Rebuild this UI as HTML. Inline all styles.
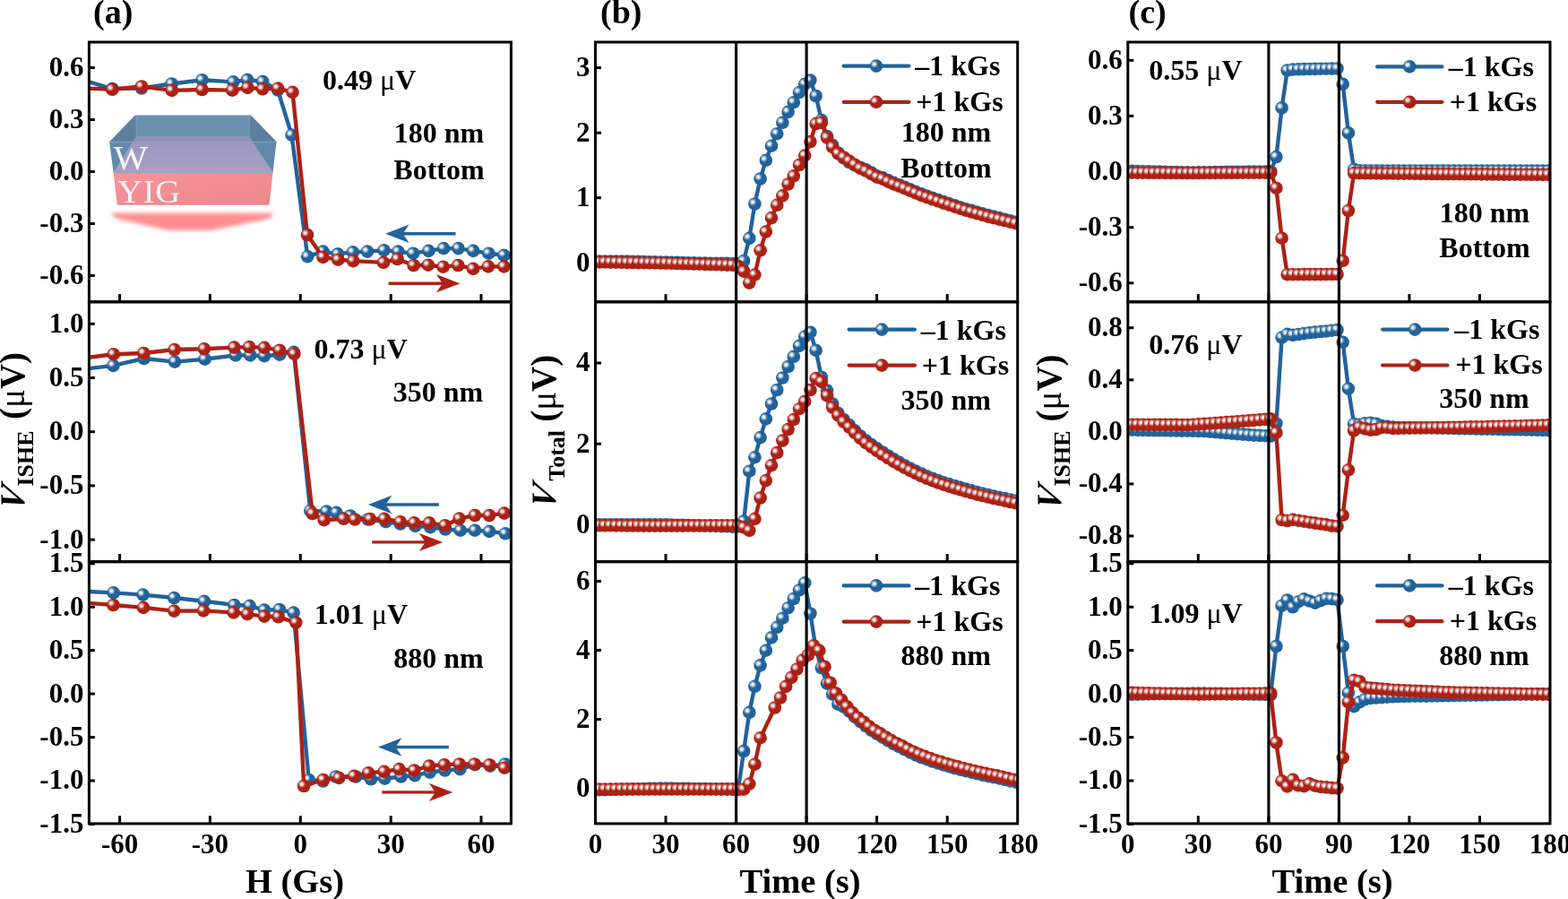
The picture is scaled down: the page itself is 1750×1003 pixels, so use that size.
<!DOCTYPE html>
<html><head><meta charset="utf-8"><style>html,body{margin:0;padding:0;background:#fff;}svg{display:block;}</style></head><body>
<svg width="1750" height="1003" viewBox="0 0 1750 1003">
<defs>
<radialGradient id="gH" cx="0.5" cy="0.5" r="0.5"><stop offset="0" stop-color="#fff" stop-opacity="1"/><stop offset="0.3" stop-color="#fff" stop-opacity="0.88"/><stop offset="0.65" stop-color="#fff" stop-opacity="0.4"/><stop offset="1" stop-color="#fff" stop-opacity="0"/></radialGradient>
<g id="mB"><circle r="7.3" fill="#22629b"/><circle cx="-2.3" cy="-2.1" r="4.3" fill="url(#gH)"/></g>
<g id="mR"><circle r="7.3" fill="#ad2115"/><circle cx="-2.3" cy="-2.1" r="4.3" fill="url(#gH)"/></g>
<clipPath id="ca0"><rect x="99.4" y="47" width="471" height="289.8"/></clipPath>
<clipPath id="ca1"><rect x="99.4" y="336.8" width="471" height="289.9"/></clipPath>
<clipPath id="ca2"><rect x="99.4" y="626.7" width="471" height="292.2"/></clipPath>
<clipPath id="cb0"><rect x="664.5" y="47" width="471.2" height="289.8"/></clipPath>
<clipPath id="cb1"><rect x="664.5" y="336.8" width="471.2" height="289.9"/></clipPath>
<clipPath id="cb2"><rect x="664.5" y="626.7" width="471.2" height="292.2"/></clipPath>
<clipPath id="cc0"><rect x="1258.8" y="47" width="471.2" height="289.8"/></clipPath>
<clipPath id="cc1"><rect x="1258.8" y="336.8" width="471.2" height="289.9"/></clipPath>
<clipPath id="cc2"><rect x="1258.8" y="626.7" width="471.2" height="292.2"/></clipPath>
<filter id="blur" x="-20%" y="-50%" width="140%" height="200%"><feGaussianBlur stdDeviation="2.2"/></filter>
</defs>
<rect width="1750" height="1003" fill="#fff"/>
<g>
<polygon points="123.5,237.6 305.9,237.6 300,244 236,257 188,257 130,244" fill="#ff8f92" filter="url(#blur)"/>
<defs><linearGradient id="lav" x1="0" y1="0" x2="0" y2="1"><stop offset="0" stop-color="#9c97bc"/><stop offset="1" stop-color="#a7a1c5"/></linearGradient><linearGradient id="pnk" x1="0" y1="0" x2="1" y2="1"><stop offset="0" stop-color="#f7939a"/><stop offset="1" stop-color="#ec878b"/></linearGradient></defs>
<polygon points="151.1,128.4 279.7,128.4 308.6,158.3 122.2,158.3" fill="#6a90b0"/>
<polygon points="122.2,158.3 151.1,128.4 152.2,152.7 148.6,158.3" fill="#5e7f9e"/>
<polygon points="279.7,128.4 308.6,158.3 281.7,158.3 278.1,152.7" fill="#5e7f9e"/>
<polygon points="122.2,158.3 308.6,158.3 304.5,192.8 126.6,192.8" fill="#6488a9"/>
<polygon points="152.2,152.7 278.1,152.7 281.7,158.3 148.6,158.3" fill="#958fb2"/>
<polygon points="148.6,158.3 281.7,158.3 304.5,192.8 126.6,192.8" fill="url(#lav)"/>
<polygon points="126.6,192.8 304.5,192.8 300.5,228.7 130.9,228.7" fill="url(#pnk)"/>
<path d="M152.2 128.8 V152.7 H278.1 V128.8 M122.5 158.3 H308.3 M152.2 152.7 L126.6 192.8 M278.1 152.7 L304.5 192.8 M126.6 192.8 H304.5" fill="none" stroke="#8aaccc" stroke-width="0.8" opacity="0.7"/>
<text transform="translate(126.8 189.3) scale(1.08 1)" font-family="Liberation Serif, serif" font-size="37.5" fill="#f6f6fa">W</text>
<text transform="translate(131 225.7) scale(1.1 1)" font-family="Liberation Serif, serif" font-size="35" fill="#f4f4f8" letter-spacing="0.8">YIG</text>
</g>
<line x1="99.4" y1="75.5" x2="105.9" y2="75.5" stroke="#000" stroke-width="3"/>
<line x1="99.4" y1="133.5" x2="105.9" y2="133.5" stroke="#000" stroke-width="3"/>
<line x1="99.4" y1="191.5" x2="105.9" y2="191.5" stroke="#000" stroke-width="3"/>
<line x1="99.4" y1="249.5" x2="105.9" y2="249.5" stroke="#000" stroke-width="3"/>
<line x1="99.4" y1="307.5" x2="105.9" y2="307.5" stroke="#000" stroke-width="3"/>
<line x1="99.4" y1="361.3" x2="105.9" y2="361.3" stroke="#000" stroke-width="3"/>
<line x1="99.4" y1="421.5" x2="105.9" y2="421.5" stroke="#000" stroke-width="3"/>
<line x1="99.4" y1="481.7" x2="105.9" y2="481.7" stroke="#000" stroke-width="3"/>
<line x1="99.4" y1="541.9" x2="105.9" y2="541.9" stroke="#000" stroke-width="3"/>
<line x1="99.4" y1="602.1" x2="105.9" y2="602.1" stroke="#000" stroke-width="3"/>
<line x1="99.4" y1="628.8" x2="105.9" y2="628.8" stroke="#000" stroke-width="3"/>
<line x1="99.4" y1="677.2" x2="105.9" y2="677.2" stroke="#000" stroke-width="3"/>
<line x1="99.4" y1="725.6" x2="105.9" y2="725.6" stroke="#000" stroke-width="3"/>
<line x1="99.4" y1="774.1" x2="105.9" y2="774.1" stroke="#000" stroke-width="3"/>
<line x1="99.4" y1="822.6" x2="105.9" y2="822.6" stroke="#000" stroke-width="3"/>
<line x1="99.4" y1="871" x2="105.9" y2="871" stroke="#000" stroke-width="3"/>
<line x1="99.4" y1="919.5" x2="105.9" y2="919.5" stroke="#000" stroke-width="3"/>
<line x1="664.5" y1="75.6" x2="671" y2="75.6" stroke="#000" stroke-width="3"/>
<line x1="664.5" y1="148.2" x2="671" y2="148.2" stroke="#000" stroke-width="3"/>
<line x1="664.5" y1="220.7" x2="671" y2="220.7" stroke="#000" stroke-width="3"/>
<line x1="664.5" y1="293.3" x2="671" y2="293.3" stroke="#000" stroke-width="3"/>
<line x1="664.5" y1="405" x2="671" y2="405" stroke="#000" stroke-width="3"/>
<line x1="664.5" y1="495.2" x2="671" y2="495.2" stroke="#000" stroke-width="3"/>
<line x1="664.5" y1="585.4" x2="671" y2="585.4" stroke="#000" stroke-width="3"/>
<line x1="664.5" y1="648.4" x2="671" y2="648.4" stroke="#000" stroke-width="3"/>
<line x1="664.5" y1="725.4" x2="671" y2="725.4" stroke="#000" stroke-width="3"/>
<line x1="664.5" y1="802.5" x2="671" y2="802.5" stroke="#000" stroke-width="3"/>
<line x1="664.5" y1="879.5" x2="671" y2="879.5" stroke="#000" stroke-width="3"/>
<line x1="1258.8" y1="67.3" x2="1265.3" y2="67.3" stroke="#000" stroke-width="3"/>
<line x1="1258.8" y1="129.4" x2="1265.3" y2="129.4" stroke="#000" stroke-width="3"/>
<line x1="1258.8" y1="191.6" x2="1265.3" y2="191.6" stroke="#000" stroke-width="3"/>
<line x1="1258.8" y1="253.7" x2="1265.3" y2="253.7" stroke="#000" stroke-width="3"/>
<line x1="1258.8" y1="315.8" x2="1265.3" y2="315.8" stroke="#000" stroke-width="3"/>
<line x1="1258.8" y1="365.7" x2="1265.3" y2="365.7" stroke="#000" stroke-width="3"/>
<line x1="1258.8" y1="423.8" x2="1265.3" y2="423.8" stroke="#000" stroke-width="3"/>
<line x1="1258.8" y1="481.9" x2="1265.3" y2="481.9" stroke="#000" stroke-width="3"/>
<line x1="1258.8" y1="539.9" x2="1265.3" y2="539.9" stroke="#000" stroke-width="3"/>
<line x1="1258.8" y1="598" x2="1265.3" y2="598" stroke="#000" stroke-width="3"/>
<line x1="1258.8" y1="628.8" x2="1265.3" y2="628.8" stroke="#000" stroke-width="3"/>
<line x1="1258.8" y1="677.2" x2="1265.3" y2="677.2" stroke="#000" stroke-width="3"/>
<line x1="1258.8" y1="725.6" x2="1265.3" y2="725.6" stroke="#000" stroke-width="3"/>
<line x1="1258.8" y1="774.1" x2="1265.3" y2="774.1" stroke="#000" stroke-width="3"/>
<line x1="1258.8" y1="822.6" x2="1265.3" y2="822.6" stroke="#000" stroke-width="3"/>
<line x1="1258.8" y1="871" x2="1265.3" y2="871" stroke="#000" stroke-width="3"/>
<line x1="1258.8" y1="919.5" x2="1265.3" y2="919.5" stroke="#000" stroke-width="3"/>
<line x1="133.6" y1="336.8" x2="133.6" y2="328.1" stroke="#000" stroke-width="3"/>
<line x1="234.4" y1="336.8" x2="234.4" y2="328.1" stroke="#000" stroke-width="3"/>
<line x1="335.3" y1="336.8" x2="335.3" y2="328.1" stroke="#000" stroke-width="3"/>
<line x1="436.2" y1="336.8" x2="436.2" y2="328.1" stroke="#000" stroke-width="3"/>
<line x1="537" y1="336.8" x2="537" y2="328.1" stroke="#000" stroke-width="3"/>
<line x1="133.6" y1="626.7" x2="133.6" y2="618" stroke="#000" stroke-width="3"/>
<line x1="234.4" y1="626.7" x2="234.4" y2="618" stroke="#000" stroke-width="3"/>
<line x1="335.3" y1="626.7" x2="335.3" y2="618" stroke="#000" stroke-width="3"/>
<line x1="436.2" y1="626.7" x2="436.2" y2="618" stroke="#000" stroke-width="3"/>
<line x1="537" y1="626.7" x2="537" y2="618" stroke="#000" stroke-width="3"/>
<line x1="133.6" y1="918.9" x2="133.6" y2="910.2" stroke="#000" stroke-width="3"/>
<line x1="234.4" y1="918.9" x2="234.4" y2="910.2" stroke="#000" stroke-width="3"/>
<line x1="335.3" y1="918.9" x2="335.3" y2="910.2" stroke="#000" stroke-width="3"/>
<line x1="436.2" y1="918.9" x2="436.2" y2="910.2" stroke="#000" stroke-width="3"/>
<line x1="537" y1="918.9" x2="537" y2="910.2" stroke="#000" stroke-width="3"/>
<line x1="743" y1="336.8" x2="743" y2="328.1" stroke="#000" stroke-width="3"/>
<line x1="821.6" y1="336.8" x2="821.6" y2="328.1" stroke="#000" stroke-width="3"/>
<line x1="900.1" y1="336.8" x2="900.1" y2="328.1" stroke="#000" stroke-width="3"/>
<line x1="978.6" y1="336.8" x2="978.6" y2="328.1" stroke="#000" stroke-width="3"/>
<line x1="1057.2" y1="336.8" x2="1057.2" y2="328.1" stroke="#000" stroke-width="3"/>
<line x1="743" y1="626.7" x2="743" y2="618" stroke="#000" stroke-width="3"/>
<line x1="821.6" y1="626.7" x2="821.6" y2="618" stroke="#000" stroke-width="3"/>
<line x1="900.1" y1="626.7" x2="900.1" y2="618" stroke="#000" stroke-width="3"/>
<line x1="978.6" y1="626.7" x2="978.6" y2="618" stroke="#000" stroke-width="3"/>
<line x1="1057.2" y1="626.7" x2="1057.2" y2="618" stroke="#000" stroke-width="3"/>
<line x1="743" y1="918.9" x2="743" y2="910.2" stroke="#000" stroke-width="3"/>
<line x1="821.6" y1="918.9" x2="821.6" y2="910.2" stroke="#000" stroke-width="3"/>
<line x1="900.1" y1="918.9" x2="900.1" y2="910.2" stroke="#000" stroke-width="3"/>
<line x1="978.6" y1="918.9" x2="978.6" y2="910.2" stroke="#000" stroke-width="3"/>
<line x1="1057.2" y1="918.9" x2="1057.2" y2="910.2" stroke="#000" stroke-width="3"/>
<line x1="1337.3" y1="336.8" x2="1337.3" y2="328.1" stroke="#000" stroke-width="3"/>
<line x1="1415.9" y1="336.8" x2="1415.9" y2="328.1" stroke="#000" stroke-width="3"/>
<line x1="1494.4" y1="336.8" x2="1494.4" y2="328.1" stroke="#000" stroke-width="3"/>
<line x1="1572.9" y1="336.8" x2="1572.9" y2="328.1" stroke="#000" stroke-width="3"/>
<line x1="1651.5" y1="336.8" x2="1651.5" y2="328.1" stroke="#000" stroke-width="3"/>
<line x1="1337.3" y1="626.7" x2="1337.3" y2="618" stroke="#000" stroke-width="3"/>
<line x1="1415.9" y1="626.7" x2="1415.9" y2="618" stroke="#000" stroke-width="3"/>
<line x1="1494.4" y1="626.7" x2="1494.4" y2="618" stroke="#000" stroke-width="3"/>
<line x1="1572.9" y1="626.7" x2="1572.9" y2="618" stroke="#000" stroke-width="3"/>
<line x1="1651.5" y1="626.7" x2="1651.5" y2="618" stroke="#000" stroke-width="3"/>
<line x1="1337.3" y1="918.9" x2="1337.3" y2="910.2" stroke="#000" stroke-width="3"/>
<line x1="1415.9" y1="918.9" x2="1415.9" y2="910.2" stroke="#000" stroke-width="3"/>
<line x1="1494.4" y1="918.9" x2="1494.4" y2="910.2" stroke="#000" stroke-width="3"/>
<line x1="1572.9" y1="918.9" x2="1572.9" y2="910.2" stroke="#000" stroke-width="3"/>
<line x1="1651.5" y1="918.9" x2="1651.5" y2="910.2" stroke="#000" stroke-width="3"/>
<g clip-path="url(#ca0)">
<path d="M91.6 89.1 L125.3 99 L158 98.5 L191.6 93.5 L225.6 89.2 L260.4 91.4 L276 89 L293.2 91 L310.1 100.5 L325.5 150.6 L343.2 286.2 L360.5 280.6 L377 283.4 L393.9 281.3 L410 280.6 L428.5 279.2 L444.3 280.6 L461.1 282.7 L478.3 279.9 L495.1 277.1 L511.5 277.1 L528.2 279.9 L545.4 282.7 L562.4 284.8 L579 286" fill="none" stroke="#22629b" stroke-width="4.4" stroke-linejoin="round"/>
<use href="#mB" x="91.6" y="89.1"/>
<use href="#mB" x="125.3" y="99"/>
<use href="#mB" x="158" y="98.5"/>
<use href="#mB" x="191.6" y="93.5"/>
<use href="#mB" x="225.6" y="89.2"/>
<use href="#mB" x="260.4" y="91.4"/>
<use href="#mB" x="276" y="89"/>
<use href="#mB" x="293.2" y="91"/>
<use href="#mB" x="310.1" y="100.5"/>
<use href="#mB" x="325.5" y="150.6"/>
<use href="#mB" x="343.2" y="286.2"/>
<use href="#mB" x="360.5" y="280.6"/>
<use href="#mB" x="377" y="283.4"/>
<use href="#mB" x="393.9" y="281.3"/>
<use href="#mB" x="410" y="280.6"/>
<use href="#mB" x="428.5" y="279.2"/>
<use href="#mB" x="444.3" y="280.6"/>
<use href="#mB" x="461.1" y="282.7"/>
<use href="#mB" x="478.3" y="279.9"/>
<use href="#mB" x="495.1" y="277.1"/>
<use href="#mB" x="511.5" y="277.1"/>
<use href="#mB" x="528.2" y="279.9"/>
<use href="#mB" x="545.4" y="282.7"/>
<use href="#mB" x="562.4" y="284.8"/>
<use href="#mB" x="579" y="286"/>
<path d="M91.6 98.3 L125.3 99.8 L158 96.5 L191.8 100.9 L225.5 100 L259.3 100.7 L276.3 97.9 L293.1 99.3 L310.2 98.6 L326.5 102.9 L343 262 L360.5 286.9 L377.4 289.7 L394.2 291.1 L428 292.9 L443.6 289 L461.6 296 L477.9 295.7 L494.6 297.7 L511.3 296 L528.1 299.9 L544.9 297.4 L562.4 297.4 L579 297" fill="none" stroke="#ad2115" stroke-width="4.4" stroke-linejoin="round"/>
<use href="#mR" x="91.6" y="98.3"/>
<use href="#mR" x="125.3" y="99.8"/>
<use href="#mR" x="158" y="96.5"/>
<use href="#mR" x="191.8" y="100.9"/>
<use href="#mR" x="225.5" y="100"/>
<use href="#mR" x="259.3" y="100.7"/>
<use href="#mR" x="276.3" y="97.9"/>
<use href="#mR" x="293.1" y="99.3"/>
<use href="#mR" x="310.2" y="98.6"/>
<use href="#mR" x="326.5" y="102.9"/>
<use href="#mR" x="343" y="262"/>
<use href="#mR" x="360.5" y="286.9"/>
<use href="#mR" x="377.4" y="289.7"/>
<use href="#mR" x="394.2" y="291.1"/>
<use href="#mR" x="428" y="292.9"/>
<use href="#mR" x="443.6" y="289"/>
<use href="#mR" x="461.6" y="296"/>
<use href="#mR" x="477.9" y="295.7"/>
<use href="#mR" x="494.6" y="297.7"/>
<use href="#mR" x="511.3" y="296"/>
<use href="#mR" x="528.1" y="299.9"/>
<use href="#mR" x="544.9" y="297.4"/>
<use href="#mR" x="562.4" y="297.4"/>
<use href="#mR" x="579" y="297"/>
</g>
<g clip-path="url(#ca1)">
<path d="M91.6 412 L126.4 407.9 L160.7 400 L195 403.6 L228.6 400.7 L262.9 396.4 L279.3 396.4 L295 397.1 L312.1 395.7 L327.9 392.9 L346.3 569.9 L364.4 570.6 L375.4 571.9 L391 575.5 L410.7 579.5 L430.6 582.2 L446.8 584.5 L463.5 586.9 L480.3 588.1 L497 590.5 L513.8 591.7 L530 591.7 L546.1 592.9 L564 595.3 L580 596" fill="none" stroke="#22629b" stroke-width="4.4" stroke-linejoin="round"/>
<use href="#mB" x="91.6" y="412"/>
<use href="#mB" x="126.4" y="407.9"/>
<use href="#mB" x="160.7" y="400"/>
<use href="#mB" x="195" y="403.6"/>
<use href="#mB" x="228.6" y="400.7"/>
<use href="#mB" x="262.9" y="396.4"/>
<use href="#mB" x="279.3" y="396.4"/>
<use href="#mB" x="295" y="397.1"/>
<use href="#mB" x="312.1" y="395.7"/>
<use href="#mB" x="327.9" y="392.9"/>
<use href="#mB" x="346.3" y="569.9"/>
<use href="#mB" x="364.4" y="570.6"/>
<use href="#mB" x="375.4" y="571.9"/>
<use href="#mB" x="391" y="575.5"/>
<use href="#mB" x="410.7" y="579.5"/>
<use href="#mB" x="430.6" y="582.2"/>
<use href="#mB" x="446.8" y="584.5"/>
<use href="#mB" x="463.5" y="586.9"/>
<use href="#mB" x="480.3" y="588.1"/>
<use href="#mB" x="497" y="590.5"/>
<use href="#mB" x="513.8" y="591.7"/>
<use href="#mB" x="530" y="591.7"/>
<use href="#mB" x="546.1" y="592.9"/>
<use href="#mB" x="564" y="595.3"/>
<use href="#mB" x="580" y="596"/>
<path d="M91.6 399.8 L126.7 395.2 L160.4 394 L194.7 390 L227.9 389.2 L261.4 387.6 L278.1 387.1 L295 387.9 L311.9 390.7 L328.4 394.8 L348.7 573 L361.7 580.2 L383.6 578.8 L396 579.5 L413.1 579.1 L428.9 578.8 L446.8 582.2 L462.3 583.3 L479.1 583.3 L496.6 586.2 L512.6 578.6 L530 575 L546.1 575 L562.8 572.6 L580 571" fill="none" stroke="#ad2115" stroke-width="4.4" stroke-linejoin="round"/>
<use href="#mR" x="91.6" y="399.8"/>
<use href="#mR" x="126.7" y="395.2"/>
<use href="#mR" x="160.4" y="394"/>
<use href="#mR" x="194.7" y="390"/>
<use href="#mR" x="227.9" y="389.2"/>
<use href="#mR" x="261.4" y="387.6"/>
<use href="#mR" x="278.1" y="387.1"/>
<use href="#mR" x="295" y="387.9"/>
<use href="#mR" x="311.9" y="390.7"/>
<use href="#mR" x="328.4" y="394.8"/>
<use href="#mR" x="348.7" y="573"/>
<use href="#mR" x="361.7" y="580.2"/>
<use href="#mR" x="383.6" y="578.8"/>
<use href="#mR" x="396" y="579.5"/>
<use href="#mR" x="413.1" y="579.1"/>
<use href="#mR" x="428.9" y="578.8"/>
<use href="#mR" x="446.8" y="582.2"/>
<use href="#mR" x="462.3" y="583.3"/>
<use href="#mR" x="479.1" y="583.3"/>
<use href="#mR" x="496.6" y="586.2"/>
<use href="#mR" x="512.6" y="578.6"/>
<use href="#mR" x="530" y="575"/>
<use href="#mR" x="546.1" y="575"/>
<use href="#mR" x="562.8" y="572.6"/>
<use href="#mR" x="580" y="571"/>
</g>
<g clip-path="url(#ca2)">
<path d="M91.6 659.7 L126.7 661.4 L159.6 663.6 L194.3 667 L227.9 670.8 L261.4 675 L278.6 675.8 L295 680.6 L311.9 680 L327.6 683.6 L344.7 870 L360.5 871.5 L374.8 866.5 L397.2 866.5 L414 869.3 L429.4 868.6 L447.6 866.5 L463 865.1 L479.8 861.6 L496.6 859.5 L513.4 858.1 L530.2 853.2 L547 854.6 L563.8 852.5 L580 851" fill="none" stroke="#22629b" stroke-width="4.4" stroke-linejoin="round"/>
<use href="#mB" x="91.6" y="659.7"/>
<use href="#mB" x="126.7" y="661.4"/>
<use href="#mB" x="159.6" y="663.6"/>
<use href="#mB" x="194.3" y="667"/>
<use href="#mB" x="227.9" y="670.8"/>
<use href="#mB" x="261.4" y="675"/>
<use href="#mB" x="278.6" y="675.8"/>
<use href="#mB" x="295" y="680.6"/>
<use href="#mB" x="311.9" y="680"/>
<use href="#mB" x="327.6" y="683.6"/>
<use href="#mB" x="344.7" y="870"/>
<use href="#mB" x="360.5" y="871.5"/>
<use href="#mB" x="374.8" y="866.5"/>
<use href="#mB" x="397.2" y="866.5"/>
<use href="#mB" x="414" y="869.3"/>
<use href="#mB" x="429.4" y="868.6"/>
<use href="#mB" x="447.6" y="866.5"/>
<use href="#mB" x="463" y="865.1"/>
<use href="#mB" x="479.8" y="861.6"/>
<use href="#mB" x="496.6" y="859.5"/>
<use href="#mB" x="513.4" y="858.1"/>
<use href="#mB" x="530.2" y="853.2"/>
<use href="#mB" x="547" y="854.6"/>
<use href="#mB" x="563.8" y="852.5"/>
<use href="#mB" x="580" y="851"/>
<path d="M91.6 672.3 L126.4 675 L160 677.9 L194.3 681.6 L227.1 681.4 L260.7 683.4 L276.1 685.1 L295 687.6 L310.7 688.3 L330.3 694.6 L339.1 877 L360.8 870 L378.3 867.9 L395.1 865.8 L411.2 862.3 L428.7 860.9 L445.5 858.1 L462.3 859.5 L479.1 854.6 L495.9 853.2 L512.7 852.5 L529.5 852.5 L546.3 853.2 L563.1 856.7 L580 858" fill="none" stroke="#ad2115" stroke-width="4.4" stroke-linejoin="round"/>
<use href="#mR" x="91.6" y="672.3"/>
<use href="#mR" x="126.4" y="675"/>
<use href="#mR" x="160" y="677.9"/>
<use href="#mR" x="194.3" y="681.6"/>
<use href="#mR" x="227.1" y="681.4"/>
<use href="#mR" x="260.7" y="683.4"/>
<use href="#mR" x="276.1" y="685.1"/>
<use href="#mR" x="295" y="687.6"/>
<use href="#mR" x="310.7" y="688.3"/>
<use href="#mR" x="330.3" y="694.6"/>
<use href="#mR" x="339.1" y="877"/>
<use href="#mR" x="360.8" y="870"/>
<use href="#mR" x="378.3" y="867.9"/>
<use href="#mR" x="395.1" y="865.8"/>
<use href="#mR" x="411.2" y="862.3"/>
<use href="#mR" x="428.7" y="860.9"/>
<use href="#mR" x="445.5" y="858.1"/>
<use href="#mR" x="462.3" y="859.5"/>
<use href="#mR" x="479.1" y="854.6"/>
<use href="#mR" x="495.9" y="853.2"/>
<use href="#mR" x="512.7" y="852.5"/>
<use href="#mR" x="529.5" y="852.5"/>
<use href="#mR" x="546.3" y="853.2"/>
<use href="#mR" x="563.1" y="856.7"/>
<use href="#mR" x="580" y="858"/>
</g>
<g clip-path="url(#cb0)">
<path d="M669 291.5 L675.1 291.5 L681.3 291.5 L687.5 291.5 L693.7 291.5 L699.9 291.5 L706.1 291.7 L712.3 291.8 L718.5 292 L724.7 292.2 L730.9 292.3 L737.1 292.5 L743.3 292.6 L749.5 292.8 L755.7 292.9 L761.9 293.1 L768.1 293.2 L774.3 293.4 L780.5 293.5 L786.7 293.6 L792.9 293.7 L799.1 293.8 L805.3 293.9 L811.5 293.9 L817.7 294.1 L823.9 294 L830.1 291 L836.3 265.9 L842.4 227.5 L848.6 199.5 L854.8 178.8 L861 162.7 L867.2 149.2 L873.4 136.8 L879.6 124.9 L885.8 114.2 L892 103.1 L898.2 93.8 L904.4 89.6 L910.6 107 L916.8 134 L923 152 L929.2 161.9 L935.4 170.5 L941.6 176.4 L947.8 181.1 L954 184.3 L960.2 186.7 L966.4 189.2 L972.6 192.6 L978.8 196.2 L985 198.1 L991.2 201.1 L997.4 203.9 L1003.6 206.2 L1009.7 208.7 L1015.9 211.3 L1022.1 213.9 L1028.3 216.4 L1034.5 218.6 L1040.7 220.8 L1046.9 222.9 L1053.1 225.1 L1059.3 227.1 L1065.5 229.2 L1071.7 231.2 L1077.9 233.2 L1084.1 234.9 L1090.3 236.6 L1096.5 238.4 L1102.7 240.1 L1108.9 241.6 L1115.1 243.1 L1121.3 244.7 L1127.5 246.2 L1133.7 247.7 L1139.9 249.2" fill="none" stroke="#22629b" stroke-width="4.4" stroke-linejoin="round"/>
<use href="#mB" x="669" y="291.5"/>
<use href="#mB" x="675.1" y="291.5"/>
<use href="#mB" x="681.3" y="291.5"/>
<use href="#mB" x="687.5" y="291.5"/>
<use href="#mB" x="693.7" y="291.5"/>
<use href="#mB" x="699.9" y="291.5"/>
<use href="#mB" x="706.1" y="291.7"/>
<use href="#mB" x="712.3" y="291.8"/>
<use href="#mB" x="718.5" y="292"/>
<use href="#mB" x="724.7" y="292.2"/>
<use href="#mB" x="730.9" y="292.3"/>
<use href="#mB" x="737.1" y="292.5"/>
<use href="#mB" x="743.3" y="292.6"/>
<use href="#mB" x="749.5" y="292.8"/>
<use href="#mB" x="755.7" y="292.9"/>
<use href="#mB" x="761.9" y="293.1"/>
<use href="#mB" x="768.1" y="293.2"/>
<use href="#mB" x="774.3" y="293.4"/>
<use href="#mB" x="780.5" y="293.5"/>
<use href="#mB" x="786.7" y="293.6"/>
<use href="#mB" x="792.9" y="293.7"/>
<use href="#mB" x="799.1" y="293.8"/>
<use href="#mB" x="805.3" y="293.9"/>
<use href="#mB" x="811.5" y="293.9"/>
<use href="#mB" x="817.7" y="294.1"/>
<use href="#mB" x="823.9" y="294"/>
<use href="#mB" x="830.1" y="291"/>
<use href="#mB" x="836.3" y="265.9"/>
<use href="#mB" x="842.4" y="227.5"/>
<use href="#mB" x="848.6" y="199.5"/>
<use href="#mB" x="854.8" y="178.8"/>
<use href="#mB" x="861" y="162.7"/>
<use href="#mB" x="867.2" y="149.2"/>
<use href="#mB" x="873.4" y="136.8"/>
<use href="#mB" x="879.6" y="124.9"/>
<use href="#mB" x="885.8" y="114.2"/>
<use href="#mB" x="892" y="103.1"/>
<use href="#mB" x="898.2" y="93.8"/>
<use href="#mB" x="904.4" y="89.6"/>
<use href="#mB" x="910.6" y="107"/>
<use href="#mB" x="916.8" y="134"/>
<use href="#mB" x="923" y="152"/>
<use href="#mB" x="929.2" y="161.9"/>
<use href="#mB" x="935.4" y="170.5"/>
<use href="#mB" x="941.6" y="176.4"/>
<use href="#mB" x="947.8" y="181.1"/>
<use href="#mB" x="954" y="184.3"/>
<use href="#mB" x="960.2" y="186.7"/>
<use href="#mB" x="966.4" y="189.2"/>
<use href="#mB" x="972.6" y="192.6"/>
<use href="#mB" x="978.8" y="196.2"/>
<use href="#mB" x="985" y="198.1"/>
<use href="#mB" x="991.2" y="201.1"/>
<use href="#mB" x="997.4" y="203.9"/>
<use href="#mB" x="1003.6" y="206.2"/>
<use href="#mB" x="1009.7" y="208.7"/>
<use href="#mB" x="1015.9" y="211.3"/>
<use href="#mB" x="1022.1" y="213.9"/>
<use href="#mB" x="1028.3" y="216.4"/>
<use href="#mB" x="1034.5" y="218.6"/>
<use href="#mB" x="1040.7" y="220.8"/>
<use href="#mB" x="1046.9" y="222.9"/>
<use href="#mB" x="1053.1" y="225.1"/>
<use href="#mB" x="1059.3" y="227.1"/>
<use href="#mB" x="1065.5" y="229.2"/>
<use href="#mB" x="1071.7" y="231.2"/>
<use href="#mB" x="1077.9" y="233.2"/>
<use href="#mB" x="1084.1" y="234.9"/>
<use href="#mB" x="1090.3" y="236.6"/>
<use href="#mB" x="1096.5" y="238.4"/>
<use href="#mB" x="1102.7" y="240.1"/>
<use href="#mB" x="1108.9" y="241.6"/>
<use href="#mB" x="1115.1" y="243.1"/>
<use href="#mB" x="1121.3" y="244.7"/>
<use href="#mB" x="1127.5" y="246.2"/>
<use href="#mB" x="1133.7" y="247.7"/>
<use href="#mB" x="1139.9" y="249.2"/>
<path d="M669 292.5 L675.1 292.5 L681.3 292.6 L687.5 292.7 L693.7 292.8 L699.9 292.9 L706.1 293 L712.3 293.1 L718.5 293.2 L724.7 293.3 L730.9 293.4 L737.1 293.5 L743.3 293.6 L749.5 293.8 L755.7 294 L761.9 294.2 L768.1 294.3 L774.3 294.5 L780.5 294.7 L786.7 294.9 L792.9 295 L799.1 295.2 L805.3 295.4 L811.5 295.6 L817.7 295.8 L823.9 297.1 L830.1 302.7 L836.3 315.6 L842.4 306.6 L848.6 279.4 L854.8 258.6 L861 243.1 L867.2 228.8 L873.4 218.4 L879.6 205.5 L885.8 196.4 L892 184 L898.2 173.6 L904.4 158.1 L910.6 138.1 L916.8 136.8 L923 153.6 L929.2 164.2 L935.4 171.4 L941.6 175.5 L947.8 179.6 L954 183.7 L960.2 187.9 L966.4 190.7 L972.6 194.1 L978.8 197.7 L985 199.6 L991.2 202.6 L997.4 205.4 L1003.6 207.7 L1009.7 210.2 L1015.9 212.8 L1022.1 215.4 L1028.3 217.9 L1034.5 220.1 L1040.7 222.3 L1046.9 224.4 L1053.1 226.6 L1059.3 228.6 L1065.5 230.7 L1071.7 232.7 L1077.9 234.7 L1084.1 236.4 L1090.3 238.1 L1096.5 239.9 L1102.7 241.6 L1108.9 243.1 L1115.1 244.6 L1121.3 246.2 L1127.5 247.7 L1133.7 249.2 L1139.9 250.7" fill="none" stroke="#ad2115" stroke-width="4.4" stroke-linejoin="round"/>
<use href="#mR" x="669" y="292.5"/>
<use href="#mR" x="675.1" y="292.5"/>
<use href="#mR" x="681.3" y="292.6"/>
<use href="#mR" x="687.5" y="292.7"/>
<use href="#mR" x="693.7" y="292.8"/>
<use href="#mR" x="699.9" y="292.9"/>
<use href="#mR" x="706.1" y="293"/>
<use href="#mR" x="712.3" y="293.1"/>
<use href="#mR" x="718.5" y="293.2"/>
<use href="#mR" x="724.7" y="293.3"/>
<use href="#mR" x="730.9" y="293.4"/>
<use href="#mR" x="737.1" y="293.5"/>
<use href="#mR" x="743.3" y="293.6"/>
<use href="#mR" x="749.5" y="293.8"/>
<use href="#mR" x="755.7" y="294"/>
<use href="#mR" x="761.9" y="294.2"/>
<use href="#mR" x="768.1" y="294.3"/>
<use href="#mR" x="774.3" y="294.5"/>
<use href="#mR" x="780.5" y="294.7"/>
<use href="#mR" x="786.7" y="294.9"/>
<use href="#mR" x="792.9" y="295"/>
<use href="#mR" x="799.1" y="295.2"/>
<use href="#mR" x="805.3" y="295.4"/>
<use href="#mR" x="811.5" y="295.6"/>
<use href="#mR" x="817.7" y="295.8"/>
<use href="#mR" x="823.9" y="297.1"/>
<use href="#mR" x="830.1" y="302.7"/>
<use href="#mR" x="836.3" y="315.6"/>
<use href="#mR" x="842.4" y="306.6"/>
<use href="#mR" x="848.6" y="279.4"/>
<use href="#mR" x="854.8" y="258.6"/>
<use href="#mR" x="861" y="243.1"/>
<use href="#mR" x="867.2" y="228.8"/>
<use href="#mR" x="873.4" y="218.4"/>
<use href="#mR" x="879.6" y="205.5"/>
<use href="#mR" x="885.8" y="196.4"/>
<use href="#mR" x="892" y="184"/>
<use href="#mR" x="898.2" y="173.6"/>
<use href="#mR" x="904.4" y="158.1"/>
<use href="#mR" x="910.6" y="138.1"/>
<use href="#mR" x="916.8" y="136.8"/>
<use href="#mR" x="923" y="153.6"/>
<use href="#mR" x="929.2" y="164.2"/>
<use href="#mR" x="935.4" y="171.4"/>
<use href="#mR" x="941.6" y="175.5"/>
<use href="#mR" x="947.8" y="179.6"/>
<use href="#mR" x="954" y="183.7"/>
<use href="#mR" x="960.2" y="187.9"/>
<use href="#mR" x="966.4" y="190.7"/>
<use href="#mR" x="972.6" y="194.1"/>
<use href="#mR" x="978.8" y="197.7"/>
<use href="#mR" x="985" y="199.6"/>
<use href="#mR" x="991.2" y="202.6"/>
<use href="#mR" x="997.4" y="205.4"/>
<use href="#mR" x="1003.6" y="207.7"/>
<use href="#mR" x="1009.7" y="210.2"/>
<use href="#mR" x="1015.9" y="212.8"/>
<use href="#mR" x="1022.1" y="215.4"/>
<use href="#mR" x="1028.3" y="217.9"/>
<use href="#mR" x="1034.5" y="220.1"/>
<use href="#mR" x="1040.7" y="222.3"/>
<use href="#mR" x="1046.9" y="224.4"/>
<use href="#mR" x="1053.1" y="226.6"/>
<use href="#mR" x="1059.3" y="228.6"/>
<use href="#mR" x="1065.5" y="230.7"/>
<use href="#mR" x="1071.7" y="232.7"/>
<use href="#mR" x="1077.9" y="234.7"/>
<use href="#mR" x="1084.1" y="236.4"/>
<use href="#mR" x="1090.3" y="238.1"/>
<use href="#mR" x="1096.5" y="239.9"/>
<use href="#mR" x="1102.7" y="241.6"/>
<use href="#mR" x="1108.9" y="243.1"/>
<use href="#mR" x="1115.1" y="244.6"/>
<use href="#mR" x="1121.3" y="246.2"/>
<use href="#mR" x="1127.5" y="247.7"/>
<use href="#mR" x="1133.7" y="249.2"/>
<use href="#mR" x="1139.9" y="250.7"/>
</g>
<g clip-path="url(#cb1)">
<path d="M669 585.3 L675.1 585.3 L681.3 585.3 L687.5 585.3 L693.7 585.3 L699.9 585.3 L706.1 585.3 L712.3 585.3 L718.5 585.3 L724.7 585.3 L730.9 585.3 L737.1 585.3 L743.3 585.4 L749.5 585.6 L755.7 585.7 L761.9 585.9 L768.1 586 L774.3 586.2 L780.5 586.3 L786.7 586.5 L792.9 586.7 L799.1 586.9 L805.3 587.1 L811.5 587.3 L817.7 587.6 L823.9 587.1 L830.1 581.5 L836.3 525.7 L842.4 510.2 L848.6 488.1 L854.8 467.4 L861 450.5 L867.2 435 L873.4 421.5 L879.6 409 L885.8 397.9 L892 385.9 L898.2 375.6 L904.4 370.7 L910.6 390.9 L916.8 420.7 L923 435.6 L929.2 450.6 L935.4 460.9 L941.6 468 L947.8 474.1 L954 480.3 L960.2 486.4 L966.4 491.6 L972.6 496.1 L978.8 500.4 L985 504.5 L991.2 508.5 L997.4 512.4 L1003.6 515.9 L1009.7 519.3 L1015.9 522.6 L1022.1 525.6 L1028.3 528.5 L1034.5 531.3 L1040.7 533.7 L1046.9 536 L1053.1 538.2 L1059.3 540.1 L1065.5 542 L1071.7 543.8 L1077.9 545.6 L1084.1 547.4 L1090.3 549.1 L1096.5 550.5 L1102.7 552 L1108.9 553.5 L1115.1 554.8 L1121.3 556.1 L1127.5 557.5 L1133.7 558.8 L1139.9 559.9" fill="none" stroke="#22629b" stroke-width="4.4" stroke-linejoin="round"/>
<use href="#mB" x="669" y="585.3"/>
<use href="#mB" x="675.1" y="585.3"/>
<use href="#mB" x="681.3" y="585.3"/>
<use href="#mB" x="687.5" y="585.3"/>
<use href="#mB" x="693.7" y="585.3"/>
<use href="#mB" x="699.9" y="585.3"/>
<use href="#mB" x="706.1" y="585.3"/>
<use href="#mB" x="712.3" y="585.3"/>
<use href="#mB" x="718.5" y="585.3"/>
<use href="#mB" x="724.7" y="585.3"/>
<use href="#mB" x="730.9" y="585.3"/>
<use href="#mB" x="737.1" y="585.3"/>
<use href="#mB" x="743.3" y="585.4"/>
<use href="#mB" x="749.5" y="585.6"/>
<use href="#mB" x="755.7" y="585.7"/>
<use href="#mB" x="761.9" y="585.9"/>
<use href="#mB" x="768.1" y="586"/>
<use href="#mB" x="774.3" y="586.2"/>
<use href="#mB" x="780.5" y="586.3"/>
<use href="#mB" x="786.7" y="586.5"/>
<use href="#mB" x="792.9" y="586.7"/>
<use href="#mB" x="799.1" y="586.9"/>
<use href="#mB" x="805.3" y="587.1"/>
<use href="#mB" x="811.5" y="587.3"/>
<use href="#mB" x="817.7" y="587.6"/>
<use href="#mB" x="823.9" y="587.1"/>
<use href="#mB" x="830.1" y="581.5"/>
<use href="#mB" x="836.3" y="525.7"/>
<use href="#mB" x="842.4" y="510.2"/>
<use href="#mB" x="848.6" y="488.1"/>
<use href="#mB" x="854.8" y="467.4"/>
<use href="#mB" x="861" y="450.5"/>
<use href="#mB" x="867.2" y="435"/>
<use href="#mB" x="873.4" y="421.5"/>
<use href="#mB" x="879.6" y="409"/>
<use href="#mB" x="885.8" y="397.9"/>
<use href="#mB" x="892" y="385.9"/>
<use href="#mB" x="898.2" y="375.6"/>
<use href="#mB" x="904.4" y="370.7"/>
<use href="#mB" x="910.6" y="390.9"/>
<use href="#mB" x="916.8" y="420.7"/>
<use href="#mB" x="923" y="435.6"/>
<use href="#mB" x="929.2" y="450.6"/>
<use href="#mB" x="935.4" y="460.9"/>
<use href="#mB" x="941.6" y="468"/>
<use href="#mB" x="947.8" y="474.1"/>
<use href="#mB" x="954" y="480.3"/>
<use href="#mB" x="960.2" y="486.4"/>
<use href="#mB" x="966.4" y="491.6"/>
<use href="#mB" x="972.6" y="496.1"/>
<use href="#mB" x="978.8" y="500.4"/>
<use href="#mB" x="985" y="504.5"/>
<use href="#mB" x="991.2" y="508.5"/>
<use href="#mB" x="997.4" y="512.4"/>
<use href="#mB" x="1003.6" y="515.9"/>
<use href="#mB" x="1009.7" y="519.3"/>
<use href="#mB" x="1015.9" y="522.6"/>
<use href="#mB" x="1022.1" y="525.6"/>
<use href="#mB" x="1028.3" y="528.5"/>
<use href="#mB" x="1034.5" y="531.3"/>
<use href="#mB" x="1040.7" y="533.7"/>
<use href="#mB" x="1046.9" y="536"/>
<use href="#mB" x="1053.1" y="538.2"/>
<use href="#mB" x="1059.3" y="540.1"/>
<use href="#mB" x="1065.5" y="542"/>
<use href="#mB" x="1071.7" y="543.8"/>
<use href="#mB" x="1077.9" y="545.6"/>
<use href="#mB" x="1084.1" y="547.4"/>
<use href="#mB" x="1090.3" y="549.1"/>
<use href="#mB" x="1096.5" y="550.5"/>
<use href="#mB" x="1102.7" y="552"/>
<use href="#mB" x="1108.9" y="553.5"/>
<use href="#mB" x="1115.1" y="554.8"/>
<use href="#mB" x="1121.3" y="556.1"/>
<use href="#mB" x="1127.5" y="557.5"/>
<use href="#mB" x="1133.7" y="558.8"/>
<use href="#mB" x="1139.9" y="559.9"/>
<path d="M669 586.3 L675.1 586.3 L681.3 586.3 L687.5 586.4 L693.7 586.4 L699.9 586.5 L706.1 586.5 L712.3 586.5 L718.5 586.6 L724.7 586.6 L730.9 586.7 L737.1 586.7 L743.3 586.7 L749.5 586.6 L755.7 586.6 L761.9 586.6 L768.1 586.5 L774.3 586.5 L780.5 586.5 L786.7 586.5 L792.9 586.4 L799.1 586.4 L805.3 586.4 L811.5 586.3 L817.7 586.3 L823.9 586.7 L830.1 588.4 L836.3 591.8 L842.4 578.9 L848.6 555.5 L854.8 536.1 L861 519.2 L867.2 505 L873.4 491.5 L879.6 479 L885.8 468 L892 456.2 L898.2 447.9 L904.4 435 L910.6 422 L916.8 425.9 L923 441.4 L929.2 454.6 L935.4 463.4 L941.6 470.5 L947.8 476.6 L954 482.8 L960.2 488.9 L966.4 494.1 L972.6 498.6 L978.8 502.9 L985 507 L991.2 511 L997.4 514.9 L1003.6 518.4 L1009.7 521.8 L1015.9 525.1 L1022.1 528.1 L1028.3 531 L1034.5 533.8 L1040.7 536.2 L1046.9 538.5 L1053.1 540.7 L1059.3 542.6 L1065.5 544.5 L1071.7 546.3 L1077.9 548.1 L1084.1 549.9 L1090.3 551.6 L1096.5 553 L1102.7 554.5 L1108.9 556 L1115.1 557.3 L1121.3 558.6 L1127.5 560 L1133.7 561.3 L1139.9 562.4" fill="none" stroke="#ad2115" stroke-width="4.4" stroke-linejoin="round"/>
<use href="#mR" x="669" y="586.3"/>
<use href="#mR" x="675.1" y="586.3"/>
<use href="#mR" x="681.3" y="586.3"/>
<use href="#mR" x="687.5" y="586.4"/>
<use href="#mR" x="693.7" y="586.4"/>
<use href="#mR" x="699.9" y="586.5"/>
<use href="#mR" x="706.1" y="586.5"/>
<use href="#mR" x="712.3" y="586.5"/>
<use href="#mR" x="718.5" y="586.6"/>
<use href="#mR" x="724.7" y="586.6"/>
<use href="#mR" x="730.9" y="586.7"/>
<use href="#mR" x="737.1" y="586.7"/>
<use href="#mR" x="743.3" y="586.7"/>
<use href="#mR" x="749.5" y="586.6"/>
<use href="#mR" x="755.7" y="586.6"/>
<use href="#mR" x="761.9" y="586.6"/>
<use href="#mR" x="768.1" y="586.5"/>
<use href="#mR" x="774.3" y="586.5"/>
<use href="#mR" x="780.5" y="586.5"/>
<use href="#mR" x="786.7" y="586.5"/>
<use href="#mR" x="792.9" y="586.4"/>
<use href="#mR" x="799.1" y="586.4"/>
<use href="#mR" x="805.3" y="586.4"/>
<use href="#mR" x="811.5" y="586.3"/>
<use href="#mR" x="817.7" y="586.3"/>
<use href="#mR" x="823.9" y="586.7"/>
<use href="#mR" x="830.1" y="588.4"/>
<use href="#mR" x="836.3" y="591.8"/>
<use href="#mR" x="842.4" y="578.9"/>
<use href="#mR" x="848.6" y="555.5"/>
<use href="#mR" x="854.8" y="536.1"/>
<use href="#mR" x="861" y="519.2"/>
<use href="#mR" x="867.2" y="505"/>
<use href="#mR" x="873.4" y="491.5"/>
<use href="#mR" x="879.6" y="479"/>
<use href="#mR" x="885.8" y="468"/>
<use href="#mR" x="892" y="456.2"/>
<use href="#mR" x="898.2" y="447.9"/>
<use href="#mR" x="904.4" y="435"/>
<use href="#mR" x="910.6" y="422"/>
<use href="#mR" x="916.8" y="425.9"/>
<use href="#mR" x="923" y="441.4"/>
<use href="#mR" x="929.2" y="454.6"/>
<use href="#mR" x="935.4" y="463.4"/>
<use href="#mR" x="941.6" y="470.5"/>
<use href="#mR" x="947.8" y="476.6"/>
<use href="#mR" x="954" y="482.8"/>
<use href="#mR" x="960.2" y="488.9"/>
<use href="#mR" x="966.4" y="494.1"/>
<use href="#mR" x="972.6" y="498.6"/>
<use href="#mR" x="978.8" y="502.9"/>
<use href="#mR" x="985" y="507"/>
<use href="#mR" x="991.2" y="511"/>
<use href="#mR" x="997.4" y="514.9"/>
<use href="#mR" x="1003.6" y="518.4"/>
<use href="#mR" x="1009.7" y="521.8"/>
<use href="#mR" x="1015.9" y="525.1"/>
<use href="#mR" x="1022.1" y="528.1"/>
<use href="#mR" x="1028.3" y="531"/>
<use href="#mR" x="1034.5" y="533.8"/>
<use href="#mR" x="1040.7" y="536.2"/>
<use href="#mR" x="1046.9" y="538.5"/>
<use href="#mR" x="1053.1" y="540.7"/>
<use href="#mR" x="1059.3" y="542.6"/>
<use href="#mR" x="1065.5" y="544.5"/>
<use href="#mR" x="1071.7" y="546.3"/>
<use href="#mR" x="1077.9" y="548.1"/>
<use href="#mR" x="1084.1" y="549.9"/>
<use href="#mR" x="1090.3" y="551.6"/>
<use href="#mR" x="1096.5" y="553"/>
<use href="#mR" x="1102.7" y="554.5"/>
<use href="#mR" x="1108.9" y="556"/>
<use href="#mR" x="1115.1" y="557.3"/>
<use href="#mR" x="1121.3" y="558.6"/>
<use href="#mR" x="1127.5" y="560"/>
<use href="#mR" x="1133.7" y="561.3"/>
<use href="#mR" x="1139.9" y="562.4"/>
</g>
<g clip-path="url(#cb2)">
<path d="M669 881.2 L675.1 881.1 L681.3 880.9 L687.5 880.8 L693.7 880.6 L699.9 880.5 L706.1 880.3 L712.3 880.2 L718.5 880 L724.7 879.8 L730.9 879.7 L737.1 879.5 L743.3 879.6 L749.5 879.6 L755.7 879.7 L761.9 879.8 L768.1 879.9 L774.3 880 L780.5 880 L786.7 880.1 L792.9 880.2 L799.1 880.3 L805.3 880.4 L811.5 880.4 L817.7 880.6 L823.9 881 L830.1 838 L836.3 794.9 L842.4 765.8 L848.6 742.4 L854.8 725.7 L861 711.4 L867.2 699.8 L873.4 689.7 L879.6 678.2 L885.8 668 L892 658.4 L898.2 650.3 L904.4 684.5 L910.6 724 L916.8 745.1 L923 762.6 L929.2 774.7 L935.4 785.7 L941.6 788.7 L947.8 793.6 L954 799.9 L960.2 805.2 L966.4 810 L972.6 814.8 L978.8 818.9 L985 822.6 L991.2 826.4 L997.4 830 L1003.6 833.2 L1009.7 836.3 L1015.9 839.5 L1022.1 842.4 L1028.3 845 L1034.5 847.2 L1040.7 849.5 L1046.9 851.5 L1053.1 853.4 L1059.3 855.2 L1065.5 857 L1071.7 858.6 L1077.9 860.2 L1084.1 861.7 L1090.3 863.2 L1096.5 864.6 L1102.7 865.9 L1108.9 867.2 L1115.1 868.4 L1121.3 869.8 L1127.5 871.4 L1133.7 872.7 L1139.9 873.5" fill="none" stroke="#22629b" stroke-width="4.4" stroke-linejoin="round"/>
<use href="#mB" x="669" y="881.2"/>
<use href="#mB" x="675.1" y="881.1"/>
<use href="#mB" x="681.3" y="880.9"/>
<use href="#mB" x="687.5" y="880.8"/>
<use href="#mB" x="693.7" y="880.6"/>
<use href="#mB" x="699.9" y="880.5"/>
<use href="#mB" x="706.1" y="880.3"/>
<use href="#mB" x="712.3" y="880.2"/>
<use href="#mB" x="718.5" y="880"/>
<use href="#mB" x="724.7" y="879.8"/>
<use href="#mB" x="730.9" y="879.7"/>
<use href="#mB" x="737.1" y="879.5"/>
<use href="#mB" x="743.3" y="879.6"/>
<use href="#mB" x="749.5" y="879.6"/>
<use href="#mB" x="755.7" y="879.7"/>
<use href="#mB" x="761.9" y="879.8"/>
<use href="#mB" x="768.1" y="879.9"/>
<use href="#mB" x="774.3" y="880"/>
<use href="#mB" x="780.5" y="880"/>
<use href="#mB" x="786.7" y="880.1"/>
<use href="#mB" x="792.9" y="880.2"/>
<use href="#mB" x="799.1" y="880.3"/>
<use href="#mB" x="805.3" y="880.4"/>
<use href="#mB" x="811.5" y="880.4"/>
<use href="#mB" x="817.7" y="880.6"/>
<use href="#mB" x="823.9" y="881"/>
<use href="#mB" x="830.1" y="838"/>
<use href="#mB" x="836.3" y="794.9"/>
<use href="#mB" x="842.4" y="765.8"/>
<use href="#mB" x="848.6" y="742.4"/>
<use href="#mB" x="854.8" y="725.7"/>
<use href="#mB" x="861" y="711.4"/>
<use href="#mB" x="867.2" y="699.8"/>
<use href="#mB" x="873.4" y="689.7"/>
<use href="#mB" x="879.6" y="678.2"/>
<use href="#mB" x="885.8" y="668"/>
<use href="#mB" x="892" y="658.4"/>
<use href="#mB" x="898.2" y="650.3"/>
<use href="#mB" x="904.4" y="684.5"/>
<use href="#mB" x="910.6" y="724"/>
<use href="#mB" x="916.8" y="745.1"/>
<use href="#mB" x="923" y="762.6"/>
<use href="#mB" x="929.2" y="774.7"/>
<use href="#mB" x="935.4" y="785.7"/>
<use href="#mB" x="941.6" y="788.7"/>
<use href="#mB" x="947.8" y="793.6"/>
<use href="#mB" x="954" y="799.9"/>
<use href="#mB" x="960.2" y="805.2"/>
<use href="#mB" x="966.4" y="810"/>
<use href="#mB" x="972.6" y="814.8"/>
<use href="#mB" x="978.8" y="818.9"/>
<use href="#mB" x="985" y="822.6"/>
<use href="#mB" x="991.2" y="826.4"/>
<use href="#mB" x="997.4" y="830"/>
<use href="#mB" x="1003.6" y="833.2"/>
<use href="#mB" x="1009.7" y="836.3"/>
<use href="#mB" x="1015.9" y="839.5"/>
<use href="#mB" x="1022.1" y="842.4"/>
<use href="#mB" x="1028.3" y="845"/>
<use href="#mB" x="1034.5" y="847.2"/>
<use href="#mB" x="1040.7" y="849.5"/>
<use href="#mB" x="1046.9" y="851.5"/>
<use href="#mB" x="1053.1" y="853.4"/>
<use href="#mB" x="1059.3" y="855.2"/>
<use href="#mB" x="1065.5" y="857"/>
<use href="#mB" x="1071.7" y="858.6"/>
<use href="#mB" x="1077.9" y="860.2"/>
<use href="#mB" x="1084.1" y="861.7"/>
<use href="#mB" x="1090.3" y="863.2"/>
<use href="#mB" x="1096.5" y="864.6"/>
<use href="#mB" x="1102.7" y="865.9"/>
<use href="#mB" x="1108.9" y="867.2"/>
<use href="#mB" x="1115.1" y="868.4"/>
<use href="#mB" x="1121.3" y="869.8"/>
<use href="#mB" x="1127.5" y="871.4"/>
<use href="#mB" x="1133.7" y="872.7"/>
<use href="#mB" x="1139.9" y="873.5"/>
<path d="M669 880.5 L675.1 880.5 L681.3 880.5 L687.5 880.5 L693.7 880.5 L699.9 880.5 L706.1 880.5 L712.3 880.5 L718.5 880.5 L724.7 880.5 L730.9 880.5 L737.1 880.5 L743.3 880.5 L749.5 880.5 L755.7 880.5 L761.9 880.5 L768.1 880.5 L774.3 880.5 L780.5 880.5 L786.7 880.5 L792.9 880.5 L799.1 880.5 L805.3 880.5 L811.5 880.5 L817.7 880.5 L823.9 880.6 L830.1 880.7 L836.3 874.6 L842.4 852.7 L848.6 823.2 L864.8 789.5 L871 778.5 L877.1 765.9 L883.3 755.9 L889.5 746.5 L895.7 736.6 L901.9 730.8 L908.1 720.2 L914.3 725.8 L920.5 743.9 L926.7 761.7 L932.9 773.4 L939.1 780.7 L945.3 788.4 L951.5 795.1 L957.7 800.7 L963.9 805.5 L970.1 810.5 L976.3 815 L982.5 818.4 L988.7 822.5 L994.9 826.1 L1001.1 829.5 L1007.3 832.4 L1013.5 835.9 L1019.7 838.7 L1025.9 841.5 L1032.1 843.8 L1038.3 846.1 L1044.4 848.3 L1050.6 850.1 L1056.8 852 L1063 853.8 L1069.2 855.4 L1075.4 857.1 L1081.6 858.6 L1087.8 860.1 L1094 861.5 L1100.2 862.9 L1106.4 864.2 L1112.6 865.4 L1118.8 866.7 L1125 868.3 L1131.2 869.8 L1137.4 870.7 L1143.6 871.5" fill="none" stroke="#ad2115" stroke-width="4.4" stroke-linejoin="round"/>
<use href="#mR" x="669" y="880.5"/>
<use href="#mR" x="675.1" y="880.5"/>
<use href="#mR" x="681.3" y="880.5"/>
<use href="#mR" x="687.5" y="880.5"/>
<use href="#mR" x="693.7" y="880.5"/>
<use href="#mR" x="699.9" y="880.5"/>
<use href="#mR" x="706.1" y="880.5"/>
<use href="#mR" x="712.3" y="880.5"/>
<use href="#mR" x="718.5" y="880.5"/>
<use href="#mR" x="724.7" y="880.5"/>
<use href="#mR" x="730.9" y="880.5"/>
<use href="#mR" x="737.1" y="880.5"/>
<use href="#mR" x="743.3" y="880.5"/>
<use href="#mR" x="749.5" y="880.5"/>
<use href="#mR" x="755.7" y="880.5"/>
<use href="#mR" x="761.9" y="880.5"/>
<use href="#mR" x="768.1" y="880.5"/>
<use href="#mR" x="774.3" y="880.5"/>
<use href="#mR" x="780.5" y="880.5"/>
<use href="#mR" x="786.7" y="880.5"/>
<use href="#mR" x="792.9" y="880.5"/>
<use href="#mR" x="799.1" y="880.5"/>
<use href="#mR" x="805.3" y="880.5"/>
<use href="#mR" x="811.5" y="880.5"/>
<use href="#mR" x="817.7" y="880.5"/>
<use href="#mR" x="823.9" y="880.6"/>
<use href="#mR" x="830.1" y="880.7"/>
<use href="#mR" x="836.3" y="874.6"/>
<use href="#mR" x="842.4" y="852.7"/>
<use href="#mR" x="848.6" y="823.2"/>
<use href="#mR" x="864.8" y="789.5"/>
<use href="#mR" x="871" y="778.5"/>
<use href="#mR" x="877.1" y="765.9"/>
<use href="#mR" x="883.3" y="755.9"/>
<use href="#mR" x="889.5" y="746.5"/>
<use href="#mR" x="895.7" y="736.6"/>
<use href="#mR" x="901.9" y="730.8"/>
<use href="#mR" x="908.1" y="720.2"/>
<use href="#mR" x="914.3" y="725.8"/>
<use href="#mR" x="920.5" y="743.9"/>
<use href="#mR" x="926.7" y="761.7"/>
<use href="#mR" x="932.9" y="773.4"/>
<use href="#mR" x="939.1" y="780.7"/>
<use href="#mR" x="945.3" y="788.4"/>
<use href="#mR" x="951.5" y="795.1"/>
<use href="#mR" x="957.7" y="800.7"/>
<use href="#mR" x="963.9" y="805.5"/>
<use href="#mR" x="970.1" y="810.5"/>
<use href="#mR" x="976.3" y="815"/>
<use href="#mR" x="982.5" y="818.4"/>
<use href="#mR" x="988.7" y="822.5"/>
<use href="#mR" x="994.9" y="826.1"/>
<use href="#mR" x="1001.1" y="829.5"/>
<use href="#mR" x="1007.3" y="832.4"/>
<use href="#mR" x="1013.5" y="835.9"/>
<use href="#mR" x="1019.7" y="838.7"/>
<use href="#mR" x="1025.9" y="841.5"/>
<use href="#mR" x="1032.1" y="843.8"/>
<use href="#mR" x="1038.3" y="846.1"/>
<use href="#mR" x="1044.4" y="848.3"/>
<use href="#mR" x="1050.6" y="850.1"/>
<use href="#mR" x="1056.8" y="852"/>
<use href="#mR" x="1063" y="853.8"/>
<use href="#mR" x="1069.2" y="855.4"/>
<use href="#mR" x="1075.4" y="857.1"/>
<use href="#mR" x="1081.6" y="858.6"/>
<use href="#mR" x="1087.8" y="860.1"/>
<use href="#mR" x="1094" y="861.5"/>
<use href="#mR" x="1100.2" y="862.9"/>
<use href="#mR" x="1106.4" y="864.2"/>
<use href="#mR" x="1112.6" y="865.4"/>
<use href="#mR" x="1118.8" y="866.7"/>
<use href="#mR" x="1125" y="868.3"/>
<use href="#mR" x="1131.2" y="869.8"/>
<use href="#mR" x="1137.4" y="870.7"/>
<use href="#mR" x="1143.6" y="871.5"/>
</g>
<g clip-path="url(#cc0)">
<path d="M1263.3 190.9 L1269.4 191 L1275.6 191.2 L1281.8 191.3 L1288 191.5 L1294.2 191.6 L1300.4 191.8 L1306.6 192 L1312.8 192.1 L1319 192.3 L1325.2 192.4 L1331.4 192.5 L1337.6 192.4 L1343.8 192.3 L1350 192.2 L1356.2 192.1 L1362.4 192 L1368.6 191.9 L1374.8 191.8 L1381 191.8 L1387.2 191.7 L1393.4 191.6 L1399.6 191.5 L1405.8 191.5 L1412 191.5 L1418.2 191.5 L1424.4 175 L1430.6 120.4 L1436.7 78.5 L1442.9 77.5 L1449.1 77.3 L1455.3 77.1 L1461.5 77 L1467.7 76.9 L1473.9 76.8 L1480.1 76.7 L1486.3 76.6 L1492.5 76.5 L1498.7 93.9 L1504.9 148.4 L1511.1 188.9 L1517.3 190.2 L1523.5 190.5 L1529.7 190.5 L1535.9 190.5 L1542.1 190.5 L1548.3 190.5 L1554.5 190.5 L1560.7 190.5 L1566.9 190.5 L1573.1 190.5 L1579.3 190.5 L1585.5 190.5 L1591.7 190.5 L1597.9 190.5 L1604 190.5 L1610.2 190.5 L1616.4 190.5 L1622.6 190.5 L1628.8 190.5 L1635 190.5 L1641.2 190.5 L1647.4 190.5 L1653.6 190.5 L1659.8 190.5 L1666 190.5 L1672.2 190.5 L1678.4 190.5 L1684.6 190.5 L1690.8 190.5 L1697 190.5 L1703.2 190.5 L1709.4 190.5 L1715.6 190.5 L1721.8 190.5 L1728 190.5 L1734.2 190.5" fill="none" stroke="#22629b" stroke-width="4.4" stroke-linejoin="round"/>
<use href="#mB" x="1263.3" y="190.9"/>
<use href="#mB" x="1269.4" y="191"/>
<use href="#mB" x="1275.6" y="191.2"/>
<use href="#mB" x="1281.8" y="191.3"/>
<use href="#mB" x="1288" y="191.5"/>
<use href="#mB" x="1294.2" y="191.6"/>
<use href="#mB" x="1300.4" y="191.8"/>
<use href="#mB" x="1306.6" y="192"/>
<use href="#mB" x="1312.8" y="192.1"/>
<use href="#mB" x="1319" y="192.3"/>
<use href="#mB" x="1325.2" y="192.4"/>
<use href="#mB" x="1331.4" y="192.5"/>
<use href="#mB" x="1337.6" y="192.4"/>
<use href="#mB" x="1343.8" y="192.3"/>
<use href="#mB" x="1350" y="192.2"/>
<use href="#mB" x="1356.2" y="192.1"/>
<use href="#mB" x="1362.4" y="192"/>
<use href="#mB" x="1368.6" y="191.9"/>
<use href="#mB" x="1374.8" y="191.8"/>
<use href="#mB" x="1381" y="191.8"/>
<use href="#mB" x="1387.2" y="191.7"/>
<use href="#mB" x="1393.4" y="191.6"/>
<use href="#mB" x="1399.6" y="191.5"/>
<use href="#mB" x="1405.8" y="191.5"/>
<use href="#mB" x="1412" y="191.5"/>
<use href="#mB" x="1418.2" y="191.5"/>
<use href="#mB" x="1424.4" y="175"/>
<use href="#mB" x="1430.6" y="120.4"/>
<use href="#mB" x="1436.7" y="78.5"/>
<use href="#mB" x="1442.9" y="77.5"/>
<use href="#mB" x="1449.1" y="77.3"/>
<use href="#mB" x="1455.3" y="77.1"/>
<use href="#mB" x="1461.5" y="77"/>
<use href="#mB" x="1467.7" y="76.9"/>
<use href="#mB" x="1473.9" y="76.8"/>
<use href="#mB" x="1480.1" y="76.7"/>
<use href="#mB" x="1486.3" y="76.6"/>
<use href="#mB" x="1492.5" y="76.5"/>
<use href="#mB" x="1498.7" y="93.9"/>
<use href="#mB" x="1504.9" y="148.4"/>
<use href="#mB" x="1511.1" y="188.9"/>
<use href="#mB" x="1517.3" y="190.2"/>
<use href="#mB" x="1523.5" y="190.5"/>
<use href="#mB" x="1529.7" y="190.5"/>
<use href="#mB" x="1535.9" y="190.5"/>
<use href="#mB" x="1542.1" y="190.5"/>
<use href="#mB" x="1548.3" y="190.5"/>
<use href="#mB" x="1554.5" y="190.5"/>
<use href="#mB" x="1560.7" y="190.5"/>
<use href="#mB" x="1566.9" y="190.5"/>
<use href="#mB" x="1573.1" y="190.5"/>
<use href="#mB" x="1579.3" y="190.5"/>
<use href="#mB" x="1585.5" y="190.5"/>
<use href="#mB" x="1591.7" y="190.5"/>
<use href="#mB" x="1597.9" y="190.5"/>
<use href="#mB" x="1604" y="190.5"/>
<use href="#mB" x="1610.2" y="190.5"/>
<use href="#mB" x="1616.4" y="190.5"/>
<use href="#mB" x="1622.6" y="190.5"/>
<use href="#mB" x="1628.8" y="190.5"/>
<use href="#mB" x="1635" y="190.5"/>
<use href="#mB" x="1641.2" y="190.5"/>
<use href="#mB" x="1647.4" y="190.5"/>
<use href="#mB" x="1653.6" y="190.5"/>
<use href="#mB" x="1659.8" y="190.5"/>
<use href="#mB" x="1666" y="190.5"/>
<use href="#mB" x="1672.2" y="190.5"/>
<use href="#mB" x="1678.4" y="190.5"/>
<use href="#mB" x="1684.6" y="190.5"/>
<use href="#mB" x="1690.8" y="190.5"/>
<use href="#mB" x="1697" y="190.5"/>
<use href="#mB" x="1703.2" y="190.5"/>
<use href="#mB" x="1709.4" y="190.5"/>
<use href="#mB" x="1715.6" y="190.5"/>
<use href="#mB" x="1721.8" y="190.5"/>
<use href="#mB" x="1728" y="190.5"/>
<use href="#mB" x="1734.2" y="190.5"/>
<path d="M1263.3 192.7 L1269.4 192.7 L1275.6 192.7 L1281.8 192.8 L1288 192.8 L1294.2 192.8 L1300.4 192.9 L1306.6 192.9 L1312.8 192.9 L1319 193 L1325.2 193 L1331.4 193 L1337.6 193 L1343.8 192.9 L1350 192.9 L1356.2 192.9 L1362.4 192.8 L1368.6 192.8 L1374.8 192.8 L1381 192.8 L1387.2 192.7 L1393.4 192.7 L1399.6 192.7 L1405.8 192.7 L1412 192.6 L1418.2 192.6 L1424.4 209.8 L1430.6 265.7 L1436.7 306.2 L1442.9 306.2 L1449.1 306.2 L1455.3 306.1 L1461.5 306.1 L1467.7 306.1 L1473.9 306.1 L1480.1 306 L1486.3 306 L1492.5 306 L1498.7 290.8 L1504.9 235 L1511.1 193.1 L1517.3 193.2 L1523.5 193.2 L1529.7 193.3 L1535.9 193.4 L1542.1 193.4 L1548.3 193.5 L1554.5 193.5 L1560.7 193.6 L1566.9 193.7 L1573.1 193.7 L1579.3 193.8 L1585.5 193.9 L1591.7 193.9 L1597.9 194 L1604 194 L1610.2 194.1 L1616.4 194.1 L1622.6 194.2 L1628.8 194.2 L1635 194.3 L1641.2 194.3 L1647.4 194.3 L1653.6 194.4 L1659.8 194.4 L1666 194.5 L1672.2 194.5 L1678.4 194.6 L1684.6 194.6 L1690.8 194.7 L1697 194.7 L1703.2 194.7 L1709.4 194.8 L1715.6 194.8 L1721.8 194.9 L1728 194.9 L1734.2 195" fill="none" stroke="#ad2115" stroke-width="4.4" stroke-linejoin="round"/>
<use href="#mR" x="1263.3" y="192.7"/>
<use href="#mR" x="1269.4" y="192.7"/>
<use href="#mR" x="1275.6" y="192.7"/>
<use href="#mR" x="1281.8" y="192.8"/>
<use href="#mR" x="1288" y="192.8"/>
<use href="#mR" x="1294.2" y="192.8"/>
<use href="#mR" x="1300.4" y="192.9"/>
<use href="#mR" x="1306.6" y="192.9"/>
<use href="#mR" x="1312.8" y="192.9"/>
<use href="#mR" x="1319" y="193"/>
<use href="#mR" x="1325.2" y="193"/>
<use href="#mR" x="1331.4" y="193"/>
<use href="#mR" x="1337.6" y="193"/>
<use href="#mR" x="1343.8" y="192.9"/>
<use href="#mR" x="1350" y="192.9"/>
<use href="#mR" x="1356.2" y="192.9"/>
<use href="#mR" x="1362.4" y="192.8"/>
<use href="#mR" x="1368.6" y="192.8"/>
<use href="#mR" x="1374.8" y="192.8"/>
<use href="#mR" x="1381" y="192.8"/>
<use href="#mR" x="1387.2" y="192.7"/>
<use href="#mR" x="1393.4" y="192.7"/>
<use href="#mR" x="1399.6" y="192.7"/>
<use href="#mR" x="1405.8" y="192.7"/>
<use href="#mR" x="1412" y="192.6"/>
<use href="#mR" x="1418.2" y="192.6"/>
<use href="#mR" x="1424.4" y="209.8"/>
<use href="#mR" x="1430.6" y="265.7"/>
<use href="#mR" x="1436.7" y="306.2"/>
<use href="#mR" x="1442.9" y="306.2"/>
<use href="#mR" x="1449.1" y="306.2"/>
<use href="#mR" x="1455.3" y="306.1"/>
<use href="#mR" x="1461.5" y="306.1"/>
<use href="#mR" x="1467.7" y="306.1"/>
<use href="#mR" x="1473.9" y="306.1"/>
<use href="#mR" x="1480.1" y="306"/>
<use href="#mR" x="1486.3" y="306"/>
<use href="#mR" x="1492.5" y="306"/>
<use href="#mR" x="1498.7" y="290.8"/>
<use href="#mR" x="1504.9" y="235"/>
<use href="#mR" x="1511.1" y="193.1"/>
<use href="#mR" x="1517.3" y="193.2"/>
<use href="#mR" x="1523.5" y="193.2"/>
<use href="#mR" x="1529.7" y="193.3"/>
<use href="#mR" x="1535.9" y="193.4"/>
<use href="#mR" x="1542.1" y="193.4"/>
<use href="#mR" x="1548.3" y="193.5"/>
<use href="#mR" x="1554.5" y="193.5"/>
<use href="#mR" x="1560.7" y="193.6"/>
<use href="#mR" x="1566.9" y="193.7"/>
<use href="#mR" x="1573.1" y="193.7"/>
<use href="#mR" x="1579.3" y="193.8"/>
<use href="#mR" x="1585.5" y="193.9"/>
<use href="#mR" x="1591.7" y="193.9"/>
<use href="#mR" x="1597.9" y="194"/>
<use href="#mR" x="1604" y="194"/>
<use href="#mR" x="1610.2" y="194.1"/>
<use href="#mR" x="1616.4" y="194.1"/>
<use href="#mR" x="1622.6" y="194.2"/>
<use href="#mR" x="1628.8" y="194.2"/>
<use href="#mR" x="1635" y="194.3"/>
<use href="#mR" x="1641.2" y="194.3"/>
<use href="#mR" x="1647.4" y="194.3"/>
<use href="#mR" x="1653.6" y="194.4"/>
<use href="#mR" x="1659.8" y="194.4"/>
<use href="#mR" x="1666" y="194.5"/>
<use href="#mR" x="1672.2" y="194.5"/>
<use href="#mR" x="1678.4" y="194.6"/>
<use href="#mR" x="1684.6" y="194.6"/>
<use href="#mR" x="1690.8" y="194.7"/>
<use href="#mR" x="1697" y="194.7"/>
<use href="#mR" x="1703.2" y="194.7"/>
<use href="#mR" x="1709.4" y="194.8"/>
<use href="#mR" x="1715.6" y="194.8"/>
<use href="#mR" x="1721.8" y="194.9"/>
<use href="#mR" x="1728" y="194.9"/>
<use href="#mR" x="1734.2" y="195"/>
</g>
<g clip-path="url(#cc1)">
<path d="M1263.3 479.7 L1269.4 479.8 L1275.6 479.9 L1281.8 480 L1288 480.1 L1294.2 480.2 L1300.4 480.3 L1306.6 480.4 L1312.8 480.5 L1319 480.6 L1325.2 480.7 L1331.4 480.8 L1337.6 480.9 L1343.8 481 L1350 481.5 L1356.2 482 L1362.4 482.5 L1368.6 483.1 L1374.8 483.6 L1381 484.1 L1387.2 484.6 L1393.4 485.1 L1399.6 485.6 L1405.8 485.9 L1412 486.2 L1418.2 486.5 L1424.4 472.5 L1430.6 376.6 L1436.7 372.9 L1442.9 373.9 L1449.1 373 L1455.3 372.1 L1461.5 371.3 L1467.7 370.6 L1473.9 370 L1480.1 369.5 L1486.3 368.7 L1492.5 368 L1498.7 381.8 L1504.9 433.6 L1511.1 473 L1517.3 473.7 L1523.5 472.3 L1529.7 471.7 L1535.9 472.7 L1542.1 475.1 L1548.3 475.8 L1554.5 476.5 L1560.7 477 L1566.9 477.1 L1573.1 477.1 L1579.3 477.2 L1585.5 477.3 L1591.7 477.3 L1597.9 477.4 L1604 477.5 L1610.2 477.7 L1616.4 477.8 L1622.6 477.9 L1628.8 478.1 L1635 478.2 L1641.2 478.3 L1647.4 478.5 L1653.6 478.6 L1659.8 478.7 L1666 478.8 L1672.2 478.9 L1678.4 479.1 L1684.6 479.2 L1690.8 479.3 L1697 479.4 L1703.2 479.5 L1709.4 479.7 L1715.6 479.8 L1721.8 479.9 L1728 480 L1734.2 480.1" fill="none" stroke="#22629b" stroke-width="4.4" stroke-linejoin="round"/>
<use href="#mB" x="1263.3" y="479.7"/>
<use href="#mB" x="1269.4" y="479.8"/>
<use href="#mB" x="1275.6" y="479.9"/>
<use href="#mB" x="1281.8" y="480"/>
<use href="#mB" x="1288" y="480.1"/>
<use href="#mB" x="1294.2" y="480.2"/>
<use href="#mB" x="1300.4" y="480.3"/>
<use href="#mB" x="1306.6" y="480.4"/>
<use href="#mB" x="1312.8" y="480.5"/>
<use href="#mB" x="1319" y="480.6"/>
<use href="#mB" x="1325.2" y="480.7"/>
<use href="#mB" x="1331.4" y="480.8"/>
<use href="#mB" x="1337.6" y="480.9"/>
<use href="#mB" x="1343.8" y="481"/>
<use href="#mB" x="1350" y="481.5"/>
<use href="#mB" x="1356.2" y="482"/>
<use href="#mB" x="1362.4" y="482.5"/>
<use href="#mB" x="1368.6" y="483.1"/>
<use href="#mB" x="1374.8" y="483.6"/>
<use href="#mB" x="1381" y="484.1"/>
<use href="#mB" x="1387.2" y="484.6"/>
<use href="#mB" x="1393.4" y="485.1"/>
<use href="#mB" x="1399.6" y="485.6"/>
<use href="#mB" x="1405.8" y="485.9"/>
<use href="#mB" x="1412" y="486.2"/>
<use href="#mB" x="1418.2" y="486.5"/>
<use href="#mB" x="1424.4" y="472.5"/>
<use href="#mB" x="1430.6" y="376.6"/>
<use href="#mB" x="1436.7" y="372.9"/>
<use href="#mB" x="1442.9" y="373.9"/>
<use href="#mB" x="1449.1" y="373"/>
<use href="#mB" x="1455.3" y="372.1"/>
<use href="#mB" x="1461.5" y="371.3"/>
<use href="#mB" x="1467.7" y="370.6"/>
<use href="#mB" x="1473.9" y="370"/>
<use href="#mB" x="1480.1" y="369.5"/>
<use href="#mB" x="1486.3" y="368.7"/>
<use href="#mB" x="1492.5" y="368"/>
<use href="#mB" x="1498.7" y="381.8"/>
<use href="#mB" x="1504.9" y="433.6"/>
<use href="#mB" x="1511.1" y="473"/>
<use href="#mB" x="1517.3" y="473.7"/>
<use href="#mB" x="1523.5" y="472.3"/>
<use href="#mB" x="1529.7" y="471.7"/>
<use href="#mB" x="1535.9" y="472.7"/>
<use href="#mB" x="1542.1" y="475.1"/>
<use href="#mB" x="1548.3" y="475.8"/>
<use href="#mB" x="1554.5" y="476.5"/>
<use href="#mB" x="1560.7" y="477"/>
<use href="#mB" x="1566.9" y="477.1"/>
<use href="#mB" x="1573.1" y="477.1"/>
<use href="#mB" x="1579.3" y="477.2"/>
<use href="#mB" x="1585.5" y="477.3"/>
<use href="#mB" x="1591.7" y="477.3"/>
<use href="#mB" x="1597.9" y="477.4"/>
<use href="#mB" x="1604" y="477.5"/>
<use href="#mB" x="1610.2" y="477.7"/>
<use href="#mB" x="1616.4" y="477.8"/>
<use href="#mB" x="1622.6" y="477.9"/>
<use href="#mB" x="1628.8" y="478.1"/>
<use href="#mB" x="1635" y="478.2"/>
<use href="#mB" x="1641.2" y="478.3"/>
<use href="#mB" x="1647.4" y="478.5"/>
<use href="#mB" x="1653.6" y="478.6"/>
<use href="#mB" x="1659.8" y="478.7"/>
<use href="#mB" x="1666" y="478.8"/>
<use href="#mB" x="1672.2" y="478.9"/>
<use href="#mB" x="1678.4" y="479.1"/>
<use href="#mB" x="1684.6" y="479.2"/>
<use href="#mB" x="1690.8" y="479.3"/>
<use href="#mB" x="1697" y="479.4"/>
<use href="#mB" x="1703.2" y="479.5"/>
<use href="#mB" x="1709.4" y="479.7"/>
<use href="#mB" x="1715.6" y="479.8"/>
<use href="#mB" x="1721.8" y="479.9"/>
<use href="#mB" x="1728" y="480"/>
<use href="#mB" x="1734.2" y="480.1"/>
<path d="M1263.3 473.7 L1269.4 473.7 L1275.6 473.7 L1281.8 473.8 L1288 473.8 L1294.2 473.8 L1300.4 473.9 L1306.6 473.9 L1312.8 473.9 L1319 474 L1325.2 474 L1331.4 473.8 L1337.6 473.3 L1343.8 472.9 L1350 472.5 L1356.2 472 L1362.4 471.6 L1368.6 471.1 L1374.8 470.7 L1381 470.3 L1387.2 469.8 L1393.4 469.4 L1399.6 468.9 L1405.8 468.4 L1412 467.9 L1418.2 467.4 L1424.4 482.8 L1430.6 580 L1436.7 581 L1442.9 579.7 L1449.1 580.7 L1455.3 581.7 L1461.5 582.7 L1467.7 583.6 L1473.9 584.5 L1480.1 585.4 L1486.3 586.6 L1492.5 587.2 L1498.7 574.8 L1504.9 524.3 L1511.1 480.4 L1517.3 476.7 L1523.5 478.4 L1529.7 479.8 L1535.9 479.1 L1542.1 476.9 L1548.3 476.9 L1554.5 477.9 L1560.7 477.8 L1566.9 477.7 L1573.1 477.6 L1579.3 477.5 L1585.5 477.4 L1591.7 477.3 L1597.9 477.2 L1604 477.1 L1610.2 477 L1616.4 476.9 L1622.6 476.8 L1628.8 476.7 L1635 476.6 L1641.2 476.4 L1647.4 476.3 L1653.6 476.2 L1659.8 476 L1666 475.9 L1672.2 475.7 L1678.4 475.6 L1684.6 475.5 L1690.8 475.3 L1697 475.2 L1703.2 475 L1709.4 474.9 L1715.6 474.7 L1721.8 474.6 L1728 474.4 L1734.2 474.3" fill="none" stroke="#ad2115" stroke-width="4.4" stroke-linejoin="round"/>
<use href="#mR" x="1263.3" y="473.7"/>
<use href="#mR" x="1269.4" y="473.7"/>
<use href="#mR" x="1275.6" y="473.7"/>
<use href="#mR" x="1281.8" y="473.8"/>
<use href="#mR" x="1288" y="473.8"/>
<use href="#mR" x="1294.2" y="473.8"/>
<use href="#mR" x="1300.4" y="473.9"/>
<use href="#mR" x="1306.6" y="473.9"/>
<use href="#mR" x="1312.8" y="473.9"/>
<use href="#mR" x="1319" y="474"/>
<use href="#mR" x="1325.2" y="474"/>
<use href="#mR" x="1331.4" y="473.8"/>
<use href="#mR" x="1337.6" y="473.3"/>
<use href="#mR" x="1343.8" y="472.9"/>
<use href="#mR" x="1350" y="472.5"/>
<use href="#mR" x="1356.2" y="472"/>
<use href="#mR" x="1362.4" y="471.6"/>
<use href="#mR" x="1368.6" y="471.1"/>
<use href="#mR" x="1374.8" y="470.7"/>
<use href="#mR" x="1381" y="470.3"/>
<use href="#mR" x="1387.2" y="469.8"/>
<use href="#mR" x="1393.4" y="469.4"/>
<use href="#mR" x="1399.6" y="468.9"/>
<use href="#mR" x="1405.8" y="468.4"/>
<use href="#mR" x="1412" y="467.9"/>
<use href="#mR" x="1418.2" y="467.4"/>
<use href="#mR" x="1424.4" y="482.8"/>
<use href="#mR" x="1430.6" y="580"/>
<use href="#mR" x="1436.7" y="581"/>
<use href="#mR" x="1442.9" y="579.7"/>
<use href="#mR" x="1449.1" y="580.7"/>
<use href="#mR" x="1455.3" y="581.7"/>
<use href="#mR" x="1461.5" y="582.7"/>
<use href="#mR" x="1467.7" y="583.6"/>
<use href="#mR" x="1473.9" y="584.5"/>
<use href="#mR" x="1480.1" y="585.4"/>
<use href="#mR" x="1486.3" y="586.6"/>
<use href="#mR" x="1492.5" y="587.2"/>
<use href="#mR" x="1498.7" y="574.8"/>
<use href="#mR" x="1504.9" y="524.3"/>
<use href="#mR" x="1511.1" y="480.4"/>
<use href="#mR" x="1517.3" y="476.7"/>
<use href="#mR" x="1523.5" y="478.4"/>
<use href="#mR" x="1529.7" y="479.8"/>
<use href="#mR" x="1535.9" y="479.1"/>
<use href="#mR" x="1542.1" y="476.9"/>
<use href="#mR" x="1548.3" y="476.9"/>
<use href="#mR" x="1554.5" y="477.9"/>
<use href="#mR" x="1560.7" y="477.8"/>
<use href="#mR" x="1566.9" y="477.7"/>
<use href="#mR" x="1573.1" y="477.6"/>
<use href="#mR" x="1579.3" y="477.5"/>
<use href="#mR" x="1585.5" y="477.4"/>
<use href="#mR" x="1591.7" y="477.3"/>
<use href="#mR" x="1597.9" y="477.2"/>
<use href="#mR" x="1604" y="477.1"/>
<use href="#mR" x="1610.2" y="477"/>
<use href="#mR" x="1616.4" y="476.9"/>
<use href="#mR" x="1622.6" y="476.8"/>
<use href="#mR" x="1628.8" y="476.7"/>
<use href="#mR" x="1635" y="476.6"/>
<use href="#mR" x="1641.2" y="476.4"/>
<use href="#mR" x="1647.4" y="476.3"/>
<use href="#mR" x="1653.6" y="476.2"/>
<use href="#mR" x="1659.8" y="476"/>
<use href="#mR" x="1666" y="475.9"/>
<use href="#mR" x="1672.2" y="475.7"/>
<use href="#mR" x="1678.4" y="475.6"/>
<use href="#mR" x="1684.6" y="475.5"/>
<use href="#mR" x="1690.8" y="475.3"/>
<use href="#mR" x="1697" y="475.2"/>
<use href="#mR" x="1703.2" y="475"/>
<use href="#mR" x="1709.4" y="474.9"/>
<use href="#mR" x="1715.6" y="474.7"/>
<use href="#mR" x="1721.8" y="474.6"/>
<use href="#mR" x="1728" y="474.4"/>
<use href="#mR" x="1734.2" y="474.3"/>
</g>
<g clip-path="url(#cc2)">
<path d="M1263.3 774.8 L1269.4 774.7 L1275.6 774.5 L1281.8 774.4 L1288 774.3 L1294.2 774.2 L1300.4 774.1 L1306.6 774 L1312.8 773.9 L1319 773.8 L1325.2 773.7 L1331.4 773.6 L1337.6 773.5 L1343.8 773.6 L1350 773.7 L1356.2 773.8 L1362.4 773.9 L1368.6 774.1 L1374.8 774.2 L1381 774.3 L1387.2 774.4 L1393.4 774.5 L1399.6 774.6 L1405.8 774.8 L1412 774.9 L1418.2 775 L1424.4 721 L1430.6 675.7 L1436.7 669.5 L1442.9 677.3 L1449.1 671.2 L1455.3 668.3 L1461.5 670.5 L1467.7 672.7 L1473.9 670.1 L1480.1 667.9 L1486.3 668.1 L1492.5 669.2 L1498.7 721 L1504.9 772.8 L1511.1 788.2 L1517.3 783.4 L1523.5 780.2 L1529.7 778.9 L1535.9 778.5 L1542.1 778.1 L1548.3 777.7 L1554.5 777.3 L1560.7 777 L1566.9 776.9 L1573.1 776.8 L1579.3 776.7 L1585.5 776.7 L1591.7 776.6 L1597.9 776.5 L1604 776.4 L1610.2 776.3 L1616.4 776.2 L1622.6 776 L1628.8 775.9 L1635 775.8 L1641.2 775.7 L1647.4 775.6 L1653.6 775.5 L1659.8 775.4 L1666 775.2 L1672.2 775.1 L1678.4 775 L1684.6 774.9 L1690.8 774.8 L1697 774.7 L1703.2 774.6 L1709.4 774.5 L1715.6 774.4 L1721.8 774.3 L1728 774.2 L1734.2 774.1" fill="none" stroke="#22629b" stroke-width="4.4" stroke-linejoin="round"/>
<use href="#mB" x="1263.3" y="774.8"/>
<use href="#mB" x="1269.4" y="774.7"/>
<use href="#mB" x="1275.6" y="774.5"/>
<use href="#mB" x="1281.8" y="774.4"/>
<use href="#mB" x="1288" y="774.3"/>
<use href="#mB" x="1294.2" y="774.2"/>
<use href="#mB" x="1300.4" y="774.1"/>
<use href="#mB" x="1306.6" y="774"/>
<use href="#mB" x="1312.8" y="773.9"/>
<use href="#mB" x="1319" y="773.8"/>
<use href="#mB" x="1325.2" y="773.7"/>
<use href="#mB" x="1331.4" y="773.6"/>
<use href="#mB" x="1337.6" y="773.5"/>
<use href="#mB" x="1343.8" y="773.6"/>
<use href="#mB" x="1350" y="773.7"/>
<use href="#mB" x="1356.2" y="773.8"/>
<use href="#mB" x="1362.4" y="773.9"/>
<use href="#mB" x="1368.6" y="774.1"/>
<use href="#mB" x="1374.8" y="774.2"/>
<use href="#mB" x="1381" y="774.3"/>
<use href="#mB" x="1387.2" y="774.4"/>
<use href="#mB" x="1393.4" y="774.5"/>
<use href="#mB" x="1399.6" y="774.6"/>
<use href="#mB" x="1405.8" y="774.8"/>
<use href="#mB" x="1412" y="774.9"/>
<use href="#mB" x="1418.2" y="775"/>
<use href="#mB" x="1424.4" y="721"/>
<use href="#mB" x="1430.6" y="675.7"/>
<use href="#mB" x="1436.7" y="669.5"/>
<use href="#mB" x="1442.9" y="677.3"/>
<use href="#mB" x="1449.1" y="671.2"/>
<use href="#mB" x="1455.3" y="668.3"/>
<use href="#mB" x="1461.5" y="670.5"/>
<use href="#mB" x="1467.7" y="672.7"/>
<use href="#mB" x="1473.9" y="670.1"/>
<use href="#mB" x="1480.1" y="667.9"/>
<use href="#mB" x="1486.3" y="668.1"/>
<use href="#mB" x="1492.5" y="669.2"/>
<use href="#mB" x="1498.7" y="721"/>
<use href="#mB" x="1504.9" y="772.8"/>
<use href="#mB" x="1511.1" y="788.2"/>
<use href="#mB" x="1517.3" y="783.4"/>
<use href="#mB" x="1523.5" y="780.2"/>
<use href="#mB" x="1529.7" y="778.9"/>
<use href="#mB" x="1535.9" y="778.5"/>
<use href="#mB" x="1542.1" y="778.1"/>
<use href="#mB" x="1548.3" y="777.7"/>
<use href="#mB" x="1554.5" y="777.3"/>
<use href="#mB" x="1560.7" y="777"/>
<use href="#mB" x="1566.9" y="776.9"/>
<use href="#mB" x="1573.1" y="776.8"/>
<use href="#mB" x="1579.3" y="776.7"/>
<use href="#mB" x="1585.5" y="776.7"/>
<use href="#mB" x="1591.7" y="776.6"/>
<use href="#mB" x="1597.9" y="776.5"/>
<use href="#mB" x="1604" y="776.4"/>
<use href="#mB" x="1610.2" y="776.3"/>
<use href="#mB" x="1616.4" y="776.2"/>
<use href="#mB" x="1622.6" y="776"/>
<use href="#mB" x="1628.8" y="775.9"/>
<use href="#mB" x="1635" y="775.8"/>
<use href="#mB" x="1641.2" y="775.7"/>
<use href="#mB" x="1647.4" y="775.6"/>
<use href="#mB" x="1653.6" y="775.5"/>
<use href="#mB" x="1659.8" y="775.4"/>
<use href="#mB" x="1666" y="775.2"/>
<use href="#mB" x="1672.2" y="775.1"/>
<use href="#mB" x="1678.4" y="775"/>
<use href="#mB" x="1684.6" y="774.9"/>
<use href="#mB" x="1690.8" y="774.8"/>
<use href="#mB" x="1697" y="774.7"/>
<use href="#mB" x="1703.2" y="774.6"/>
<use href="#mB" x="1709.4" y="774.5"/>
<use href="#mB" x="1715.6" y="774.4"/>
<use href="#mB" x="1721.8" y="774.3"/>
<use href="#mB" x="1728" y="774.2"/>
<use href="#mB" x="1734.2" y="774.1"/>
<path d="M1263.3 772.9 L1269.4 773.1 L1275.6 773.2 L1281.8 773.3 L1288 773.5 L1294.2 773.6 L1300.4 773.8 L1306.6 773.9 L1312.8 774 L1319 774.2 L1325.2 774.3 L1331.4 774.4 L1337.6 774.6 L1343.8 774.5 L1350 774.4 L1356.2 774.4 L1362.4 774.3 L1368.6 774.2 L1374.8 774.1 L1381 774 L1387.2 773.9 L1393.4 773.8 L1399.6 773.8 L1405.8 773.7 L1412 773.6 L1418.2 773.5 L1424.4 828.5 L1430.6 871.3 L1436.7 877.4 L1442.9 869.8 L1449.1 876.3 L1455.3 877.1 L1461.5 874.3 L1467.7 876.7 L1473.9 877.9 L1480.1 878.4 L1486.3 879.1 L1492.5 879.5 L1498.7 845.4 L1504.9 783.3 L1511.1 758.8 L1517.3 760.2 L1523.5 766.7 L1529.7 767.6 L1535.9 768.1 L1542.1 768.6 L1548.3 769.1 L1554.5 769.7 L1560.7 770.1 L1566.9 770.3 L1573.1 770.6 L1579.3 770.9 L1585.5 771.1 L1591.7 771.4 L1597.9 771.6 L1604 771.9 L1610.2 772.2 L1616.4 772.4 L1622.6 772.6 L1628.8 772.7 L1635 772.8 L1641.2 773 L1647.4 773.1 L1653.6 773.2 L1659.8 773.3 L1666 773.5 L1672.2 773.6 L1678.4 773.7 L1684.6 773.8 L1690.8 773.9 L1697 774.1 L1703.2 774.2 L1709.4 774.3 L1715.6 774.4 L1721.8 774.6 L1728 774.7 L1734.2 774.8" fill="none" stroke="#ad2115" stroke-width="4.4" stroke-linejoin="round"/>
<use href="#mR" x="1263.3" y="772.9"/>
<use href="#mR" x="1269.4" y="773.1"/>
<use href="#mR" x="1275.6" y="773.2"/>
<use href="#mR" x="1281.8" y="773.3"/>
<use href="#mR" x="1288" y="773.5"/>
<use href="#mR" x="1294.2" y="773.6"/>
<use href="#mR" x="1300.4" y="773.8"/>
<use href="#mR" x="1306.6" y="773.9"/>
<use href="#mR" x="1312.8" y="774"/>
<use href="#mR" x="1319" y="774.2"/>
<use href="#mR" x="1325.2" y="774.3"/>
<use href="#mR" x="1331.4" y="774.4"/>
<use href="#mR" x="1337.6" y="774.6"/>
<use href="#mR" x="1343.8" y="774.5"/>
<use href="#mR" x="1350" y="774.4"/>
<use href="#mR" x="1356.2" y="774.4"/>
<use href="#mR" x="1362.4" y="774.3"/>
<use href="#mR" x="1368.6" y="774.2"/>
<use href="#mR" x="1374.8" y="774.1"/>
<use href="#mR" x="1381" y="774"/>
<use href="#mR" x="1387.2" y="773.9"/>
<use href="#mR" x="1393.4" y="773.8"/>
<use href="#mR" x="1399.6" y="773.8"/>
<use href="#mR" x="1405.8" y="773.7"/>
<use href="#mR" x="1412" y="773.6"/>
<use href="#mR" x="1418.2" y="773.5"/>
<use href="#mR" x="1424.4" y="828.5"/>
<use href="#mR" x="1430.6" y="871.3"/>
<use href="#mR" x="1436.7" y="877.4"/>
<use href="#mR" x="1442.9" y="869.8"/>
<use href="#mR" x="1449.1" y="876.3"/>
<use href="#mR" x="1455.3" y="877.1"/>
<use href="#mR" x="1461.5" y="874.3"/>
<use href="#mR" x="1467.7" y="876.7"/>
<use href="#mR" x="1473.9" y="877.9"/>
<use href="#mR" x="1480.1" y="878.4"/>
<use href="#mR" x="1486.3" y="879.1"/>
<use href="#mR" x="1492.5" y="879.5"/>
<use href="#mR" x="1498.7" y="845.4"/>
<use href="#mR" x="1504.9" y="783.3"/>
<use href="#mR" x="1511.1" y="758.8"/>
<use href="#mR" x="1517.3" y="760.2"/>
<use href="#mR" x="1523.5" y="766.7"/>
<use href="#mR" x="1529.7" y="767.6"/>
<use href="#mR" x="1535.9" y="768.1"/>
<use href="#mR" x="1542.1" y="768.6"/>
<use href="#mR" x="1548.3" y="769.1"/>
<use href="#mR" x="1554.5" y="769.7"/>
<use href="#mR" x="1560.7" y="770.1"/>
<use href="#mR" x="1566.9" y="770.3"/>
<use href="#mR" x="1573.1" y="770.6"/>
<use href="#mR" x="1579.3" y="770.9"/>
<use href="#mR" x="1585.5" y="771.1"/>
<use href="#mR" x="1591.7" y="771.4"/>
<use href="#mR" x="1597.9" y="771.6"/>
<use href="#mR" x="1604" y="771.9"/>
<use href="#mR" x="1610.2" y="772.2"/>
<use href="#mR" x="1616.4" y="772.4"/>
<use href="#mR" x="1622.6" y="772.6"/>
<use href="#mR" x="1628.8" y="772.7"/>
<use href="#mR" x="1635" y="772.8"/>
<use href="#mR" x="1641.2" y="773"/>
<use href="#mR" x="1647.4" y="773.1"/>
<use href="#mR" x="1653.6" y="773.2"/>
<use href="#mR" x="1659.8" y="773.3"/>
<use href="#mR" x="1666" y="773.5"/>
<use href="#mR" x="1672.2" y="773.6"/>
<use href="#mR" x="1678.4" y="773.7"/>
<use href="#mR" x="1684.6" y="773.8"/>
<use href="#mR" x="1690.8" y="773.9"/>
<use href="#mR" x="1697" y="774.1"/>
<use href="#mR" x="1703.2" y="774.2"/>
<use href="#mR" x="1709.4" y="774.3"/>
<use href="#mR" x="1715.6" y="774.4"/>
<use href="#mR" x="1721.8" y="774.6"/>
<use href="#mR" x="1728" y="774.7"/>
<use href="#mR" x="1734.2" y="774.8"/>
</g>
<line x1="821.6" y1="47" x2="821.6" y2="918.9" stroke="#000" stroke-width="3.1"/>
<line x1="900.1" y1="47" x2="900.1" y2="918.9" stroke="#000" stroke-width="3.1"/>
<line x1="1415.9" y1="47" x2="1415.9" y2="918.9" stroke="#000" stroke-width="3.1"/>
<line x1="1494.4" y1="47" x2="1494.4" y2="918.9" stroke="#000" stroke-width="3.1"/>
<rect x="99.4" y="47" width="471" height="289.8" fill="none" stroke="#000" stroke-width="3.0"/>
<rect x="99.4" y="336.8" width="471" height="289.9" fill="none" stroke="#000" stroke-width="3.0"/>
<rect x="99.4" y="626.7" width="471" height="292.2" fill="none" stroke="#000" stroke-width="3.0"/>
<rect x="664.5" y="47" width="471.2" height="289.8" fill="none" stroke="#000" stroke-width="3.0"/>
<rect x="664.5" y="336.8" width="471.2" height="289.9" fill="none" stroke="#000" stroke-width="3.0"/>
<rect x="664.5" y="626.7" width="471.2" height="292.2" fill="none" stroke="#000" stroke-width="3.0"/>
<rect x="1258.8" y="47" width="471.2" height="289.8" fill="none" stroke="#000" stroke-width="3.0"/>
<rect x="1258.8" y="336.8" width="471.2" height="289.9" fill="none" stroke="#000" stroke-width="3.0"/>
<rect x="1258.8" y="626.7" width="471.2" height="292.2" fill="none" stroke="#000" stroke-width="3.0"/>
<text x="93.4" y="84.9" font-family="Liberation Serif, Times New Roman, serif" font-weight="bold" font-size="31" text-anchor="end">0.6</text>
<text x="93.4" y="142.9" font-family="Liberation Serif, Times New Roman, serif" font-weight="bold" font-size="31" text-anchor="end">0.3</text>
<text x="93.4" y="200.9" font-family="Liberation Serif, Times New Roman, serif" font-weight="bold" font-size="31" text-anchor="end">0.0</text>
<text x="93.4" y="258.9" font-family="Liberation Serif, Times New Roman, serif" font-weight="bold" font-size="31" text-anchor="end">-0.3</text>
<text x="93.4" y="316.9" font-family="Liberation Serif, Times New Roman, serif" font-weight="bold" font-size="31" text-anchor="end">-0.6</text>
<text x="93.4" y="370.7" font-family="Liberation Serif, Times New Roman, serif" font-weight="bold" font-size="31" text-anchor="end">1.0</text>
<text x="93.4" y="430.9" font-family="Liberation Serif, Times New Roman, serif" font-weight="bold" font-size="31" text-anchor="end">0.5</text>
<text x="93.4" y="491.1" font-family="Liberation Serif, Times New Roman, serif" font-weight="bold" font-size="31" text-anchor="end">0.0</text>
<text x="93.4" y="551.3" font-family="Liberation Serif, Times New Roman, serif" font-weight="bold" font-size="31" text-anchor="end">-0.5</text>
<text x="93.4" y="611.5" font-family="Liberation Serif, Times New Roman, serif" font-weight="bold" font-size="31" text-anchor="end">-1.0</text>
<text x="93.4" y="638.1" font-family="Liberation Serif, Times New Roman, serif" font-weight="bold" font-size="31" text-anchor="end">1.5</text>
<text x="93.4" y="686.6" font-family="Liberation Serif, Times New Roman, serif" font-weight="bold" font-size="31" text-anchor="end">1.0</text>
<text x="93.4" y="735" font-family="Liberation Serif, Times New Roman, serif" font-weight="bold" font-size="31" text-anchor="end">0.5</text>
<text x="93.4" y="783.5" font-family="Liberation Serif, Times New Roman, serif" font-weight="bold" font-size="31" text-anchor="end">0.0</text>
<text x="93.4" y="832" font-family="Liberation Serif, Times New Roman, serif" font-weight="bold" font-size="31" text-anchor="end">-0.5</text>
<text x="93.4" y="880.4" font-family="Liberation Serif, Times New Roman, serif" font-weight="bold" font-size="31" text-anchor="end">-1.0</text>
<text x="93.4" y="928.9" font-family="Liberation Serif, Times New Roman, serif" font-weight="bold" font-size="31" text-anchor="end">-1.5</text>
<text x="658.5" y="85" font-family="Liberation Serif, Times New Roman, serif" font-weight="bold" font-size="31" text-anchor="end">3</text>
<text x="658.5" y="157.6" font-family="Liberation Serif, Times New Roman, serif" font-weight="bold" font-size="31" text-anchor="end">2</text>
<text x="658.5" y="230.1" font-family="Liberation Serif, Times New Roman, serif" font-weight="bold" font-size="31" text-anchor="end">1</text>
<text x="658.5" y="302.7" font-family="Liberation Serif, Times New Roman, serif" font-weight="bold" font-size="31" text-anchor="end">0</text>
<text x="658.5" y="414.4" font-family="Liberation Serif, Times New Roman, serif" font-weight="bold" font-size="31" text-anchor="end">4</text>
<text x="658.5" y="504.6" font-family="Liberation Serif, Times New Roman, serif" font-weight="bold" font-size="31" text-anchor="end">2</text>
<text x="658.5" y="594.8" font-family="Liberation Serif, Times New Roman, serif" font-weight="bold" font-size="31" text-anchor="end">0</text>
<text x="658.5" y="657.8" font-family="Liberation Serif, Times New Roman, serif" font-weight="bold" font-size="31" text-anchor="end">6</text>
<text x="658.5" y="734.8" font-family="Liberation Serif, Times New Roman, serif" font-weight="bold" font-size="31" text-anchor="end">4</text>
<text x="658.5" y="811.9" font-family="Liberation Serif, Times New Roman, serif" font-weight="bold" font-size="31" text-anchor="end">2</text>
<text x="658.5" y="888.9" font-family="Liberation Serif, Times New Roman, serif" font-weight="bold" font-size="31" text-anchor="end">0</text>
<text x="1252.8" y="76.7" font-family="Liberation Serif, Times New Roman, serif" font-weight="bold" font-size="31" text-anchor="end">0.6</text>
<text x="1252.8" y="138.8" font-family="Liberation Serif, Times New Roman, serif" font-weight="bold" font-size="31" text-anchor="end">0.3</text>
<text x="1252.8" y="201" font-family="Liberation Serif, Times New Roman, serif" font-weight="bold" font-size="31" text-anchor="end">0.0</text>
<text x="1252.8" y="263.1" font-family="Liberation Serif, Times New Roman, serif" font-weight="bold" font-size="31" text-anchor="end">-0.3</text>
<text x="1252.8" y="325.2" font-family="Liberation Serif, Times New Roman, serif" font-weight="bold" font-size="31" text-anchor="end">-0.6</text>
<text x="1252.8" y="375.1" font-family="Liberation Serif, Times New Roman, serif" font-weight="bold" font-size="31" text-anchor="end">0.8</text>
<text x="1252.8" y="433.2" font-family="Liberation Serif, Times New Roman, serif" font-weight="bold" font-size="31" text-anchor="end">0.4</text>
<text x="1252.8" y="491.2" font-family="Liberation Serif, Times New Roman, serif" font-weight="bold" font-size="31" text-anchor="end">0.0</text>
<text x="1252.8" y="549.3" font-family="Liberation Serif, Times New Roman, serif" font-weight="bold" font-size="31" text-anchor="end">-0.4</text>
<text x="1252.8" y="607.4" font-family="Liberation Serif, Times New Roman, serif" font-weight="bold" font-size="31" text-anchor="end">-0.8</text>
<text x="1252.8" y="638.1" font-family="Liberation Serif, Times New Roman, serif" font-weight="bold" font-size="31" text-anchor="end">1.5</text>
<text x="1252.8" y="686.6" font-family="Liberation Serif, Times New Roman, serif" font-weight="bold" font-size="31" text-anchor="end">1.0</text>
<text x="1252.8" y="735" font-family="Liberation Serif, Times New Roman, serif" font-weight="bold" font-size="31" text-anchor="end">0.5</text>
<text x="1252.8" y="783.5" font-family="Liberation Serif, Times New Roman, serif" font-weight="bold" font-size="31" text-anchor="end">0.0</text>
<text x="1252.8" y="832" font-family="Liberation Serif, Times New Roman, serif" font-weight="bold" font-size="31" text-anchor="end">-0.5</text>
<text x="1252.8" y="880.4" font-family="Liberation Serif, Times New Roman, serif" font-weight="bold" font-size="31" text-anchor="end">-1.0</text>
<text x="1252.8" y="928.9" font-family="Liberation Serif, Times New Roman, serif" font-weight="bold" font-size="31" text-anchor="end">-1.5</text>
<text x="133.6" y="952" font-family="Liberation Serif, Times New Roman, serif" font-weight="bold" font-size="31" text-anchor="middle">-60</text>
<text x="234.4" y="952" font-family="Liberation Serif, Times New Roman, serif" font-weight="bold" font-size="31" text-anchor="middle">-30</text>
<text x="335.3" y="952" font-family="Liberation Serif, Times New Roman, serif" font-weight="bold" font-size="31" text-anchor="middle">0</text>
<text x="436.2" y="952" font-family="Liberation Serif, Times New Roman, serif" font-weight="bold" font-size="31" text-anchor="middle">30</text>
<text x="537" y="952" font-family="Liberation Serif, Times New Roman, serif" font-weight="bold" font-size="31" text-anchor="middle">60</text>
<text x="664.5" y="952" font-family="Liberation Serif, Times New Roman, serif" font-weight="bold" font-size="31" text-anchor="middle">0</text>
<text x="743" y="952" font-family="Liberation Serif, Times New Roman, serif" font-weight="bold" font-size="31" text-anchor="middle">30</text>
<text x="821.6" y="952" font-family="Liberation Serif, Times New Roman, serif" font-weight="bold" font-size="31" text-anchor="middle">60</text>
<text x="900.1" y="952" font-family="Liberation Serif, Times New Roman, serif" font-weight="bold" font-size="31" text-anchor="middle">90</text>
<text x="978.6" y="952" font-family="Liberation Serif, Times New Roman, serif" font-weight="bold" font-size="31" text-anchor="middle">120</text>
<text x="1057.2" y="952" font-family="Liberation Serif, Times New Roman, serif" font-weight="bold" font-size="31" text-anchor="middle">150</text>
<text x="1135.7" y="952" font-family="Liberation Serif, Times New Roman, serif" font-weight="bold" font-size="31" text-anchor="middle">180</text>
<text x="1258.8" y="952" font-family="Liberation Serif, Times New Roman, serif" font-weight="bold" font-size="31" text-anchor="middle">0</text>
<text x="1337.3" y="952" font-family="Liberation Serif, Times New Roman, serif" font-weight="bold" font-size="31" text-anchor="middle">30</text>
<text x="1415.9" y="952" font-family="Liberation Serif, Times New Roman, serif" font-weight="bold" font-size="31" text-anchor="middle">60</text>
<text x="1494.4" y="952" font-family="Liberation Serif, Times New Roman, serif" font-weight="bold" font-size="31" text-anchor="middle">90</text>
<text x="1572.9" y="952" font-family="Liberation Serif, Times New Roman, serif" font-weight="bold" font-size="31" text-anchor="middle">120</text>
<text x="1651.5" y="952" font-family="Liberation Serif, Times New Roman, serif" font-weight="bold" font-size="31" text-anchor="middle">150</text>
<text x="1730" y="952" font-family="Liberation Serif, Times New Roman, serif" font-weight="bold" font-size="31" text-anchor="middle">180</text>
<text x="329" y="996" font-family="Liberation Serif, Times New Roman, serif" font-weight="bold" font-size="38.5" text-anchor="middle">H (Gs)</text>
<text x="893" y="996" font-family="Liberation Serif, Times New Roman, serif" font-weight="bold" font-size="38.5" text-anchor="middle">Time (s)</text>
<text x="1487" y="996" font-family="Liberation Serif, Times New Roman, serif" font-weight="bold" font-size="38.5" text-anchor="middle">Time (s)</text>
<g transform="translate(26.9 564.5) rotate(-90)" font-family="Liberation Serif, Times New Roman, serif" font-weight="bold">
<text x="-7.5" transform="skewX(-16)" font-style="italic" font-size="39">V</text>
<text x="22" y="10" font-size="26">ISHE</text>
<text x="96.5" y="0" font-size="39">(<tspan font-weight="normal">μ</tspan>V)</text>
</g>
<g transform="translate(620.3 562.8) rotate(-90)" font-family="Liberation Serif, Times New Roman, serif" font-weight="bold">
<text x="-7.5" transform="skewX(-16)" font-style="italic" font-size="39">V</text>
<text x="26" y="10" font-size="26">Total</text>
<text x="92" y="0" font-size="39">(<tspan font-weight="normal">μ</tspan>V)</text>
</g>
<g transform="translate(1183.6 564.5) rotate(-90)" font-family="Liberation Serif, Times New Roman, serif" font-weight="bold">
<text x="-7.5" transform="skewX(-16)" font-style="italic" font-size="39">V</text>
<text x="22" y="10" font-size="26">ISHE</text>
<text x="94" y="0" font-size="39">(<tspan font-weight="normal">μ</tspan>V)</text>
</g>
<text x="104" y="26" font-family="Liberation Serif, Times New Roman, serif" font-weight="bold" font-size="38">(a)</text>
<text x="670" y="26" font-family="Liberation Serif, Times New Roman, serif" font-weight="bold" font-size="38">(b)</text>
<text x="1259.5" y="26" font-family="Liberation Serif, Times New Roman, serif" font-weight="bold" font-size="38">(c)</text>
<text x="360" y="99.9" font-family="Liberation Serif, Times New Roman, serif" font-weight="bold" font-size="32" text-anchor="start">0.49 <tspan font-weight="normal">μ</tspan>V</text>
<text x="490" y="159.2" font-family="Liberation Serif, Times New Roman, serif" font-weight="bold" font-size="32" text-anchor="middle">180 nm</text>
<text x="490" y="199.7" font-family="Liberation Serif, Times New Roman, serif" font-weight="bold" font-size="32" text-anchor="middle">Bottom</text>
<text x="350.5" y="400.2" font-family="Liberation Serif, Times New Roman, serif" font-weight="bold" font-size="32" text-anchor="start">0.73 <tspan font-weight="normal">μ</tspan>V</text>
<text x="489" y="448.2" font-family="Liberation Serif, Times New Roman, serif" font-weight="bold" font-size="32" text-anchor="middle">350 nm</text>
<text x="350.8" y="695.8" font-family="Liberation Serif, Times New Roman, serif" font-weight="bold" font-size="32" text-anchor="start">1.01 <tspan font-weight="normal">μ</tspan>V</text>
<text x="489.5" y="744.9" font-family="Liberation Serif, Times New Roman, serif" font-weight="bold" font-size="32" text-anchor="middle">880 nm</text>
<text x="1056" y="157.7" font-family="Liberation Serif, Times New Roman, serif" font-weight="bold" font-size="32" text-anchor="middle">180 nm</text>
<text x="1056" y="197.6" font-family="Liberation Serif, Times New Roman, serif" font-weight="bold" font-size="32" text-anchor="middle">Bottom</text>
<text x="1055.7" y="456.6" font-family="Liberation Serif, Times New Roman, serif" font-weight="bold" font-size="32" text-anchor="middle">350 nm</text>
<text x="1055.7" y="742.2" font-family="Liberation Serif, Times New Roman, serif" font-weight="bold" font-size="32" text-anchor="middle">880 nm</text>
<text x="1282.3" y="88.5" font-family="Liberation Serif, Times New Roman, serif" font-weight="bold" font-size="32" text-anchor="start">0.55 <tspan font-weight="normal">μ</tspan>V</text>
<text x="1657" y="248" font-family="Liberation Serif, Times New Roman, serif" font-weight="bold" font-size="32" text-anchor="middle">180 nm</text>
<text x="1657" y="286.5" font-family="Liberation Serif, Times New Roman, serif" font-weight="bold" font-size="32" text-anchor="middle">Bottom</text>
<text x="1282.3" y="395" font-family="Liberation Serif, Times New Roman, serif" font-weight="bold" font-size="32" text-anchor="start">0.76 <tspan font-weight="normal">μ</tspan>V</text>
<text x="1656.5" y="454.5" font-family="Liberation Serif, Times New Roman, serif" font-weight="bold" font-size="32" text-anchor="middle">350 nm</text>
<text x="1282.6" y="695.1" font-family="Liberation Serif, Times New Roman, serif" font-weight="bold" font-size="32" text-anchor="start">1.09 <tspan font-weight="normal">μ</tspan>V</text>
<text x="1656.5" y="741.6" font-family="Liberation Serif, Times New Roman, serif" font-weight="bold" font-size="32" text-anchor="middle">880 nm</text>
<line x1="941.6" y1="73.6" x2="1014.4" y2="73.6" stroke="#22629b" stroke-width="4.2" stroke-linecap="round"/>
<use href="#mB" x="978" y="73.6"/>
<line x1="941.6" y1="113.8" x2="1014.4" y2="113.8" stroke="#ad2115" stroke-width="4.2" stroke-linecap="round"/>
<use href="#mR" x="978" y="113.8"/>
<text x="1021.3" y="83.8" font-family="Liberation Serif, Times New Roman, serif" font-weight="bold" font-size="32" text-anchor="start">–1 kGs</text>
<text x="1022.3" y="124.2" font-family="Liberation Serif, Times New Roman, serif" font-weight="bold" font-size="32" text-anchor="start">+1 kGs</text>
<line x1="947.6" y1="367.6" x2="1020.9" y2="367.6" stroke="#22629b" stroke-width="4.2" stroke-linecap="round"/>
<use href="#mB" x="984.2" y="367.6"/>
<line x1="947.6" y1="407.6" x2="1020.9" y2="407.6" stroke="#ad2115" stroke-width="4.2" stroke-linecap="round"/>
<use href="#mR" x="984.2" y="407.6"/>
<text x="1027.8" y="378.6" font-family="Liberation Serif, Times New Roman, serif" font-weight="bold" font-size="32" text-anchor="start">–1 kGs</text>
<text x="1028.8" y="418.2" font-family="Liberation Serif, Times New Roman, serif" font-weight="bold" font-size="32" text-anchor="start">+1 kGs</text>
<line x1="941.6" y1="653.4" x2="1014.4" y2="653.4" stroke="#22629b" stroke-width="4.2" stroke-linecap="round"/>
<use href="#mB" x="978" y="653.4"/>
<line x1="941.6" y1="693.6" x2="1014.4" y2="693.6" stroke="#ad2115" stroke-width="4.2" stroke-linecap="round"/>
<use href="#mR" x="978" y="693.6"/>
<text x="1021.3" y="664.2" font-family="Liberation Serif, Times New Roman, serif" font-weight="bold" font-size="32" text-anchor="start">–1 kGs</text>
<text x="1022.3" y="704.4" font-family="Liberation Serif, Times New Roman, serif" font-weight="bold" font-size="32" text-anchor="start">+1 kGs</text>
<line x1="1537.1" y1="74.4" x2="1609.4" y2="74.4" stroke="#22629b" stroke-width="4.2" stroke-linecap="round"/>
<use href="#mB" x="1573.2" y="74.4"/>
<line x1="1537.1" y1="113.8" x2="1609.4" y2="113.8" stroke="#ad2115" stroke-width="4.2" stroke-linecap="round"/>
<use href="#mR" x="1573.2" y="113.8"/>
<text x="1616.8" y="84.5" font-family="Liberation Serif, Times New Roman, serif" font-weight="bold" font-size="32" text-anchor="start">–1 kGs</text>
<text x="1617.8" y="124.4" font-family="Liberation Serif, Times New Roman, serif" font-weight="bold" font-size="32" text-anchor="start">+1 kGs</text>
<line x1="1543.1" y1="367.6" x2="1615.4" y2="367.6" stroke="#22629b" stroke-width="4.2" stroke-linecap="round"/>
<use href="#mB" x="1579.2" y="367.6"/>
<line x1="1543.1" y1="407.5" x2="1615.4" y2="407.5" stroke="#ad2115" stroke-width="4.2" stroke-linecap="round"/>
<use href="#mR" x="1579.2" y="407.5"/>
<text x="1623.3" y="378.2" font-family="Liberation Serif, Times New Roman, serif" font-weight="bold" font-size="32" text-anchor="start">–1 kGs</text>
<text x="1624.3" y="417.3" font-family="Liberation Serif, Times New Roman, serif" font-weight="bold" font-size="32" text-anchor="start">+1 kGs</text>
<line x1="1537.1" y1="653.4" x2="1609.4" y2="653.4" stroke="#22629b" stroke-width="4.2" stroke-linecap="round"/>
<use href="#mB" x="1573.2" y="653.4"/>
<line x1="1537.1" y1="693.2" x2="1609.4" y2="693.2" stroke="#ad2115" stroke-width="4.2" stroke-linecap="round"/>
<use href="#mR" x="1573.2" y="693.2"/>
<text x="1616.8" y="664" font-family="Liberation Serif, Times New Roman, serif" font-weight="bold" font-size="32" text-anchor="start">–1 kGs</text>
<text x="1617.8" y="703.1" font-family="Liberation Serif, Times New Roman, serif" font-weight="bold" font-size="32" text-anchor="start">+1 kGs</text>
<line x1="508.5" y1="260.7" x2="440.1" y2="260.7" stroke="#22629b" stroke-width="3.4"/>
<polygon points="430.1,260.7 456.6,250.5 449.6,260.7 456.6,270.9" fill="#22629b"/>
<line x1="433.6" y1="316.3" x2="503.4" y2="316.3" stroke="#ad2115" stroke-width="3.4"/>
<polygon points="513.4,316.3 486.9,306.1 493.9,316.3 486.9,326.5" fill="#ad2115"/>
<line x1="489.9" y1="563" x2="420.9" y2="563" stroke="#22629b" stroke-width="3.4"/>
<polygon points="410.9,563 437.4,552.8 430.4,563 437.4,573.2" fill="#22629b"/>
<line x1="415.2" y1="604.9" x2="484.2" y2="604.9" stroke="#ad2115" stroke-width="3.4"/>
<polygon points="494.2,604.9 467.7,594.7 474.7,604.9 467.7,615.1" fill="#ad2115"/>
<line x1="500.9" y1="833.5" x2="432" y2="833.5" stroke="#22629b" stroke-width="3.4"/>
<polygon points="422,833.5 448.5,823.3 441.5,833.5 448.5,843.7" fill="#22629b"/>
<line x1="426.3" y1="883.9" x2="495.3" y2="883.9" stroke="#ad2115" stroke-width="3.4"/>
<polygon points="505.3,883.9 478.8,873.7 485.8,883.9 478.8,894.1" fill="#ad2115"/>
</svg>
</body></html>
